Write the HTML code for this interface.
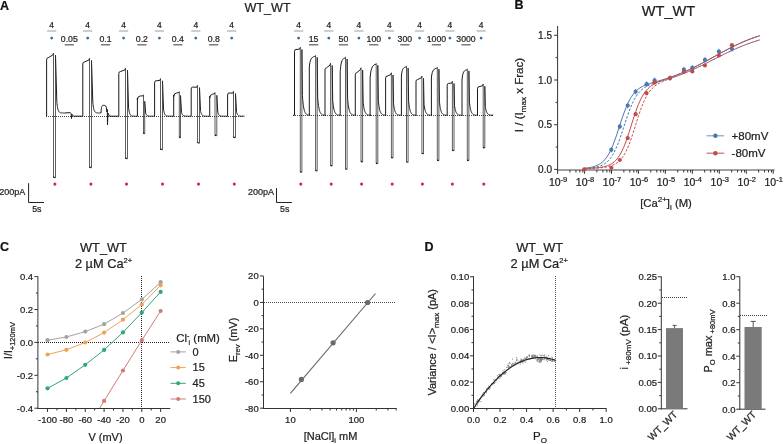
<!DOCTYPE html>
<html><head><meta charset="utf-8"><style>
html,body{margin:0;padding:0;background:#fff;}
svg{display:block;font-family:"Liberation Sans", sans-serif;will-change:transform;}
text{stroke:#222;stroke-width:0.22px;}
</style></head><body>
<svg width="784" height="444" viewBox="0 0 784 444">
<rect width="784" height="444" fill="#fff"/>
<text x="0.00" y="9.50" font-size="12.5" text-anchor="start" font-weight="bold" fill="#111" >A</text>
<text x="267.50" y="11.70" font-size="12.6" text-anchor="middle" font-weight="normal" fill="#222" >WT_WT</text>
<text x="51.70" y="28.30" font-size="8.4" text-anchor="middle" font-weight="normal" fill="#222" >4</text>
<line x1="47.10" y1="31.00" x2="56.30" y2="31.00" stroke="#b4b4b4" stroke-width="1.3" />
<circle cx="51.70" cy="38.10" r="1.4" fill="#2f6aa3"/>
<text x="87.70" y="28.30" font-size="8.4" text-anchor="middle" font-weight="normal" fill="#222" >4</text>
<line x1="83.10" y1="31.00" x2="92.30" y2="31.00" stroke="#b4b4b4" stroke-width="1.3" />
<circle cx="87.70" cy="38.10" r="1.4" fill="#2f6aa3"/>
<text x="123.60" y="28.30" font-size="8.4" text-anchor="middle" font-weight="normal" fill="#222" >4</text>
<line x1="119.00" y1="31.00" x2="128.20" y2="31.00" stroke="#b4b4b4" stroke-width="1.3" />
<circle cx="123.60" cy="38.10" r="1.4" fill="#2f6aa3"/>
<text x="159.40" y="28.30" font-size="8.4" text-anchor="middle" font-weight="normal" fill="#222" >4</text>
<line x1="154.80" y1="31.00" x2="164.00" y2="31.00" stroke="#b4b4b4" stroke-width="1.3" />
<circle cx="159.40" cy="38.10" r="1.4" fill="#2f6aa3"/>
<text x="195.80" y="28.30" font-size="8.4" text-anchor="middle" font-weight="normal" fill="#222" >4</text>
<line x1="191.20" y1="31.00" x2="200.40" y2="31.00" stroke="#b4b4b4" stroke-width="1.3" />
<circle cx="195.80" cy="38.10" r="1.4" fill="#2f6aa3"/>
<text x="231.70" y="28.30" font-size="8.4" text-anchor="middle" font-weight="normal" fill="#222" >4</text>
<line x1="227.10" y1="31.00" x2="236.30" y2="31.00" stroke="#b4b4b4" stroke-width="1.3" />
<circle cx="231.70" cy="38.10" r="1.4" fill="#2f6aa3"/>
<text x="298.60" y="28.30" font-size="8.4" text-anchor="middle" font-weight="normal" fill="#222" >4</text>
<line x1="294.00" y1="31.00" x2="303.20" y2="31.00" stroke="#b4b4b4" stroke-width="1.3" />
<circle cx="298.60" cy="38.10" r="1.4" fill="#2f6aa3"/>
<text x="328.80" y="28.30" font-size="8.4" text-anchor="middle" font-weight="normal" fill="#222" >4</text>
<line x1="324.20" y1="31.00" x2="333.40" y2="31.00" stroke="#b4b4b4" stroke-width="1.3" />
<circle cx="328.80" cy="38.10" r="1.4" fill="#2f6aa3"/>
<text x="358.90" y="28.30" font-size="8.4" text-anchor="middle" font-weight="normal" fill="#222" >4</text>
<line x1="354.30" y1="31.00" x2="363.50" y2="31.00" stroke="#b4b4b4" stroke-width="1.3" />
<circle cx="358.90" cy="38.10" r="1.4" fill="#2f6aa3"/>
<text x="389.40" y="28.30" font-size="8.4" text-anchor="middle" font-weight="normal" fill="#222" >4</text>
<line x1="384.80" y1="31.00" x2="394.00" y2="31.00" stroke="#b4b4b4" stroke-width="1.3" />
<circle cx="389.40" cy="38.10" r="1.4" fill="#2f6aa3"/>
<text x="419.60" y="28.30" font-size="8.4" text-anchor="middle" font-weight="normal" fill="#222" >4</text>
<line x1="415.00" y1="31.00" x2="424.20" y2="31.00" stroke="#b4b4b4" stroke-width="1.3" />
<circle cx="419.60" cy="38.10" r="1.4" fill="#2f6aa3"/>
<text x="449.90" y="28.30" font-size="8.4" text-anchor="middle" font-weight="normal" fill="#222" >4</text>
<line x1="445.30" y1="31.00" x2="454.50" y2="31.00" stroke="#b4b4b4" stroke-width="1.3" />
<circle cx="449.90" cy="38.10" r="1.4" fill="#2f6aa3"/>
<text x="481.10" y="28.30" font-size="8.4" text-anchor="middle" font-weight="normal" fill="#222" >4</text>
<line x1="476.50" y1="31.00" x2="485.70" y2="31.00" stroke="#b4b4b4" stroke-width="1.3" />
<circle cx="481.10" cy="38.10" r="1.4" fill="#2f6aa3"/>
<text x="69.30" y="42.30" font-size="8.7" text-anchor="middle" font-weight="normal" fill="#222" >0.05</text>
<line x1="64.70" y1="44.80" x2="73.90" y2="44.80" stroke="#666" stroke-width="1.3" />
<text x="105.50" y="42.30" font-size="8.7" text-anchor="middle" font-weight="normal" fill="#222" >0.1</text>
<line x1="100.90" y1="44.80" x2="110.10" y2="44.80" stroke="#666" stroke-width="1.3" />
<text x="141.90" y="42.30" font-size="8.7" text-anchor="middle" font-weight="normal" fill="#222" >0.2</text>
<line x1="137.30" y1="44.80" x2="146.50" y2="44.80" stroke="#666" stroke-width="1.3" />
<text x="177.90" y="42.30" font-size="8.7" text-anchor="middle" font-weight="normal" fill="#222" >0.4</text>
<line x1="173.30" y1="44.80" x2="182.50" y2="44.80" stroke="#666" stroke-width="1.3" />
<text x="213.70" y="42.30" font-size="8.7" text-anchor="middle" font-weight="normal" fill="#222" >0.8</text>
<line x1="209.10" y1="44.80" x2="218.30" y2="44.80" stroke="#666" stroke-width="1.3" />
<text x="313.60" y="42.30" font-size="8.7" text-anchor="middle" font-weight="normal" fill="#222" >15</text>
<line x1="309.00" y1="44.80" x2="318.20" y2="44.80" stroke="#666" stroke-width="1.3" />
<text x="343.40" y="42.30" font-size="8.7" text-anchor="middle" font-weight="normal" fill="#222" >50</text>
<line x1="338.80" y1="44.80" x2="348.00" y2="44.80" stroke="#666" stroke-width="1.3" />
<text x="373.80" y="42.30" font-size="8.7" text-anchor="middle" font-weight="normal" fill="#222" >100</text>
<line x1="369.20" y1="44.80" x2="378.40" y2="44.80" stroke="#666" stroke-width="1.3" />
<text x="404.80" y="42.30" font-size="8.7" text-anchor="middle" font-weight="normal" fill="#222" >300</text>
<line x1="400.20" y1="44.80" x2="409.40" y2="44.80" stroke="#666" stroke-width="1.3" />
<text x="436.40" y="42.30" font-size="8.7" text-anchor="middle" font-weight="normal" fill="#222" >1000</text>
<line x1="431.80" y1="44.80" x2="441.00" y2="44.80" stroke="#666" stroke-width="1.3" />
<text x="466.00" y="42.30" font-size="8.7" text-anchor="middle" font-weight="normal" fill="#222" >3000</text>
<line x1="461.40" y1="44.80" x2="470.60" y2="44.80" stroke="#666" stroke-width="1.3" />
<line x1="46.00" y1="116.50" x2="244.00" y2="116.50" stroke="#333" stroke-width="0.9" stroke-dasharray="1 1"/>
<line x1="293.00" y1="115.50" x2="492.00" y2="115.50" stroke="#333" stroke-width="0.9" stroke-dasharray="1 1"/>
<path d="M46.0,116.2 L46.6,116.2 L46.6,59.8 Q46.6,57.8 48.1,57.8 L52.9,54.9 L53.5,53.1 M55.5,55.3 L56.80,101.46 L57.00,103.55 L57.20,105.26 L57.40,106.67 L57.60,107.81 L57.80,108.75 L58.00,109.52 L58.20,110.15 L58.40,110.67 L58.60,111.09 L58.80,111.44 L59.00,111.72 L59.20,111.95 L59.40,112.14 L59.60,112.30 L59.80,112.43 L60.00,112.53 L60.20,112.61 L60.40,112.68 L60.60,112.74 L60.80,112.79 L61.00,112.83 L61.20,112.86 L61.40,112.88 L61.60,112.91 L61.80,112.92 L62.00,112.94 L62.20,112.95 L62.40,112.96 L62.60,112.97 L62.80,112.97 L63.00,112.98 L63.20,112.98 L63.40,112.98 L63.60,112.99 L63.80,112.99 L64.00,112.99 L64.20,112.99 L64.40,112.99 L64.60,113.00 L70.2,112.6 L71.2,113.8 L71.5,118.5 L71.9,114.2 L73.5,116.2 L82.8,116.2 L82.8,64.0 Q82.8,62.0 84.3,62.0 L88.9,60.1 L89.5,58.3 M91.5,60.5 L92.80,102.50 L93.00,104.40 L93.20,105.96 L93.40,107.24 L93.60,108.28 L93.80,109.14 L94.00,109.84 L94.20,110.41 L94.40,110.88 L94.60,111.26 L94.80,111.58 L95.00,111.84 L95.20,112.05 L95.40,112.22 L95.60,112.36 L95.80,112.48 L96.00,112.57 L96.20,112.65 L96.40,112.71 L96.60,112.77 L96.80,112.81 L97.00,112.84 L97.20,112.87 L97.40,112.89 L97.60,112.91 L97.80,112.93 L98.00,112.94 L98.20,112.95 L98.40,112.96 L98.60,112.97 L98.80,112.97 L99.00,112.98 L99.20,112.98 L99.40,112.99 L99.60,112.99 L99.80,112.99 L100.00,112.99 L100.20,112.99 L100.40,112.99 L100.60,113.00 L101,113 C101.3,106 102,105.3 103.5,105.3 C105.5,105.3 106.3,106 106.6,109 L106.9,112 L107.3,109.5 L107.5,125 L107.9,113 L109.5,116.2 L118.8,116.2 L118.8,73.6 Q118.8,71.6 120.3,71.6 L124.9,69.9 L125.5,68.1 M127.5,70.3 L128.50,107.02 L128.70,108.68 L128.90,110.05 L129.10,111.16 L129.30,112.08 L129.50,112.82 L129.70,113.44 L129.90,113.94 L130.10,114.35 L130.30,114.68 L130.50,114.96 L130.70,115.18 L130.90,115.37 L131.10,115.52 L131.30,115.64 L131.50,115.74 L131.70,115.83 L131.90,115.89 L132.10,115.95 L132.30,115.99 L132.50,116.03 L132.70,116.06 L132.90,116.09 L133.10,116.11 L133.30,116.12 L133.50,116.14 L133.70,116.15 L133.90,116.16 L134.10,116.17 L134.30,116.17 L134.50,116.18 L134.70,116.18 L134.90,116.18 L135.10,116.19 L135.30,116.19 L135.50,116.19 L135.70,116.19 L135.90,116.19 L136.10,116.20 L136.30,116.20 L137.4,116.2 L137.4,98.0 L137.4,99.5 Q137.7,96.0 140.2,96.0 L143.5,95.8 M144.7,101.3 L145.70,113.22 L145.90,113.76 L146.10,114.20 L146.30,114.56 L146.50,114.86 L146.70,115.10 L146.90,115.30 L147.10,115.47 L147.30,115.60 L147.50,115.71 L147.70,115.80 L147.90,115.87 L148.10,115.93 L148.30,115.98 L148.50,116.02 L148.70,116.05 L148.90,116.08 L149.10,116.10 L149.30,116.12 L149.50,116.13 L149.70,116.15 L149.90,116.16 L150.10,116.16 L150.30,116.17 L150.50,116.18 L150.70,116.18 L150.90,116.18 L151.10,116.19 L151.30,116.19 L151.50,116.19 L151.70,116.19 L151.90,116.19 L152.10,116.20 L152.30,116.20 L152.50,116.20 L152.70,116.20 L152.90,116.20 L153.10,116.20 L153.30,116.20 L153.50,116.20 L154.6,116.2 L154.6,82.8 Q154.6,80.8 156.1,80.8 L159.9,80.4 L160.5,78.6 M162.5,80.8 L163.50,109.12 L163.70,110.40 L163.90,111.45 L164.10,112.31 L164.30,113.02 L164.50,113.60 L164.70,114.07 L164.90,114.45 L165.10,114.77 L165.30,115.03 L165.50,115.24 L165.70,115.42 L165.90,115.56 L166.10,115.67 L166.30,115.77 L166.50,115.85 L166.70,115.91 L166.90,115.96 L167.10,116.01 L167.30,116.04 L167.50,116.07 L167.70,116.09 L167.90,116.11 L168.10,116.13 L168.30,116.14 L168.50,116.15 L168.70,116.16 L168.90,116.17 L169.10,116.17 L169.30,116.18 L169.50,116.18 L169.70,116.19 L169.90,116.19 L170.10,116.19 L170.30,116.19 L170.50,116.19 L170.70,116.19 L170.90,116.20 L171.10,116.20 L171.30,116.20 L173.7,116.2 L173.7,95.0 L173.7,96.5 Q174.0,93.0 176.5,93.0 L179.3,92.5 M180.5,95.5 L181.50,112.06 L181.70,112.81 L181.90,113.42 L182.10,113.93 L182.30,114.34 L182.50,114.68 L182.70,114.95 L182.90,115.18 L183.10,115.36 L183.30,115.52 L183.50,115.64 L183.70,115.74 L183.90,115.82 L184.10,115.89 L184.30,115.95 L184.50,115.99 L184.70,116.03 L184.90,116.06 L185.10,116.09 L185.30,116.11 L185.50,116.12 L185.70,116.14 L185.90,116.15 L186.10,116.16 L186.30,116.17 L186.50,116.17 L186.70,116.18 L186.90,116.18 L187.10,116.18 L187.30,116.19 L187.50,116.19 L187.70,116.19 L187.90,116.19 L188.10,116.19 L188.30,116.20 L188.50,116.20 L188.70,116.20 L188.90,116.20 L189.10,116.20 L189.30,116.20 L191.2,116.2 L191.2,89.1 Q191.2,87.1 192.7,87.1 L196.9,87.2 L197.5,85.4 M199.5,87.6 L200.50,110.48 L200.70,111.52 L200.90,112.37 L201.10,113.06 L201.30,113.63 L201.50,114.10 L201.70,114.48 L201.90,114.79 L202.10,115.05 L202.30,115.25 L202.50,115.43 L202.70,115.57 L202.90,115.68 L203.10,115.78 L203.30,115.85 L203.50,115.92 L203.70,115.97 L203.90,116.01 L204.10,116.04 L204.30,116.07 L204.50,116.10 L204.70,116.11 L204.90,116.13 L205.10,116.14 L205.30,116.15 L205.50,116.16 L205.70,116.17 L205.90,116.17 L206.10,116.18 L206.30,116.18 L206.50,116.19 L206.70,116.19 L206.90,116.19 L207.10,116.19 L207.30,116.19 L207.50,116.19 L207.70,116.20 L207.90,116.20 L208.10,116.20 L208.30,116.20 L209.7,116.2 L209.7,96.3 L209.7,97.8 Q210.0,94.3 212.5,94.3 L215.0,93.3 M216.8,95.3 L217.80,112.02 L218.00,112.78 L218.20,113.40 L218.40,113.91 L218.60,114.32 L218.80,114.66 L219.00,114.94 L219.20,115.17 L219.40,115.36 L219.60,115.51 L219.80,115.63 L220.00,115.74 L220.20,115.82 L220.40,115.89 L220.60,115.95 L220.80,115.99 L221.00,116.03 L221.20,116.06 L221.40,116.09 L221.60,116.11 L221.80,116.12 L222.00,116.14 L222.20,116.15 L222.40,116.16 L222.60,116.17 L222.80,116.17 L223.00,116.18 L223.20,116.18 L223.40,116.18 L223.60,116.19 L223.80,116.19 L224.00,116.19 L224.20,116.19 L224.40,116.19 L224.60,116.20 L224.80,116.20 L225.00,116.20 L225.20,116.20 L225.40,116.20 L225.60,116.20 L227.6,116.2 L227.6,95.0 Q227.6,93.0 229.1,93.0 L232.9,93.1 L233.5,91.3 M235.5,93.5 L236.50,111.66 L236.70,112.48 L236.90,113.16 L237.10,113.71 L237.30,114.16 L237.50,114.53 L237.70,114.83 L237.90,115.08 L238.10,115.28 L238.30,115.45 L238.50,115.59 L238.70,115.70 L238.90,115.79 L239.10,115.86 L239.30,115.92 L239.50,115.97 L239.70,116.01 L239.90,116.05 L240.10,116.08 L240.30,116.10 L240.50,116.12 L240.70,116.13 L240.90,116.14 L241.10,116.15 L241.30,116.16 L241.50,116.17 L241.70,116.17 L241.90,116.18 L242.10,116.18 L242.30,116.19 L242.50,116.19 L242.70,116.19 L242.90,116.19 L243.10,116.19 L243.30,116.19 L243.50,116.20 L243.70,116.20 L243.90,116.20 L244.10,116.20 L244.30,116.20 L244.0,116.2" stroke="#1a1a1a" stroke-width="1" fill="none" />
<path d="M293.0,115.3 L294.5,115.3 L294.5,51.5 Q294.5,49.5 296.0,49.5 L299.7,49.1 L300.3,47.3 M301.9,49.5 L302.40,95.56 L302.60,98.19 L302.80,100.47 L303.00,102.44 L303.20,104.15 L303.40,105.64 L303.60,106.92 L303.80,108.04 L304.00,109.00 L304.20,109.84 L304.40,110.57 L304.60,111.20 L304.80,111.74 L305.00,112.22 L305.20,112.63 L305.40,112.98 L305.60,113.29 L305.80,113.56 L306.00,113.79 L306.20,113.99 L306.40,114.17 L306.60,114.32 L306.80,114.45 L307.00,114.56 L307.20,114.66 L307.40,114.74 L307.60,114.82 L307.80,114.88 L308.00,114.94 L308.20,114.99 L308.40,115.03 L308.60,115.06 L308.80,115.10 L309.00,115.12 L309.20,115.15 L309.40,115.17 L309.60,115.18 L309.80,115.20 L310.00,115.21 L310.20,115.22 L309.3,115.3 L309.3,67.0 L309.5,65.0 C310.2,58.5 312.6,56.3 315.6,56.3 M317.2,57.3 L317.70,97.90 L317.90,100.22 L318.10,102.22 L318.30,103.96 L318.50,105.47 L318.70,106.78 L318.90,107.92 L319.10,108.90 L319.30,109.75 L319.50,110.49 L319.70,111.13 L319.90,111.69 L320.10,112.17 L320.30,112.58 L320.50,112.95 L320.70,113.26 L320.90,113.53 L321.10,113.77 L321.30,113.97 L321.50,114.15 L321.70,114.30 L321.90,114.43 L322.10,114.55 L322.30,114.65 L322.50,114.74 L322.70,114.81 L322.90,114.88 L323.10,114.93 L323.30,114.98 L323.50,115.02 L323.70,115.06 L323.90,115.09 L324.10,115.12 L324.30,115.14 L324.50,115.16 L324.70,115.18 L324.90,115.20 L325.10,115.21 L325.30,115.22 L325.50,115.23 L325.0,115.3 L325.0,69.8 Q325.0,67.8 326.5,67.8 L330.0,65.1 L330.6,63.3 M332.2,65.5 L332.70,100.36 L332.90,102.35 L333.10,104.07 L333.30,105.57 L333.50,106.86 L333.70,107.99 L333.90,108.96 L334.10,109.80 L334.30,110.54 L334.50,111.17 L334.70,111.72 L334.90,112.20 L335.10,112.61 L335.30,112.97 L335.50,113.28 L335.70,113.55 L335.90,113.78 L336.10,113.98 L336.30,114.16 L336.50,114.31 L336.70,114.44 L336.90,114.56 L337.10,114.66 L337.30,114.74 L337.50,114.82 L337.70,114.88 L337.90,114.94 L338.10,114.98 L338.30,115.03 L338.50,115.06 L338.70,115.09 L338.90,115.12 L339.10,115.15 L339.30,115.17 L339.50,115.18 L339.70,115.20 L339.90,115.21 L340.10,115.22 L340.30,115.23 L340.50,115.24 L340.2,115.3 L340.2,71.5 L340.4,69.5 C341.1,60.9 342.5,58.0 345.5,58.0 M347.1,59.0 L347.60,98.41 L347.80,100.66 L348.00,102.61 L348.20,104.30 L348.40,105.76 L348.60,107.03 L348.80,108.13 L349.00,109.09 L349.20,109.91 L349.40,110.63 L349.60,111.25 L349.80,111.79 L350.00,112.26 L350.20,112.66 L350.40,113.01 L350.60,113.32 L350.80,113.58 L351.00,113.81 L351.20,114.01 L351.40,114.18 L351.60,114.33 L351.80,114.46 L352.00,114.57 L352.20,114.67 L352.40,114.75 L352.60,114.83 L352.80,114.89 L353.00,114.94 L353.20,114.99 L353.40,115.03 L353.60,115.07 L353.80,115.10 L354.00,115.13 L354.20,115.15 L354.40,115.17 L354.60,115.19 L354.80,115.20 L355.00,115.21 L355.20,115.23 L355.40,115.24 L355.3,115.3 L355.3,74.7 Q355.3,72.7 356.8,72.7 L360.4,69.6 L361.0,67.8 M362.6,70.0 L363.10,101.71 L363.30,103.52 L363.50,105.09 L363.70,106.45 L363.90,107.63 L364.10,108.65 L364.30,109.53 L364.50,110.30 L364.70,110.97 L364.90,111.54 L365.10,112.04 L365.30,112.48 L365.50,112.85 L365.70,113.18 L365.90,113.46 L366.10,113.71 L366.30,113.92 L366.50,114.10 L366.70,114.26 L366.90,114.40 L367.10,114.52 L367.30,114.62 L367.50,114.71 L367.70,114.79 L367.90,114.86 L368.10,114.92 L368.30,114.97 L368.50,115.01 L368.70,115.05 L368.90,115.08 L369.10,115.11 L369.30,115.14 L369.50,115.16 L369.70,115.18 L369.90,115.19 L370.10,115.21 L370.30,115.22 L370.50,115.23 L370.70,115.24 L370.90,115.25 L370.1,115.3 L370.1,78.0 L370.3,76.0 C371.0,67.2 373.2,64.3 376.2,64.3 M377.8,65.3 L378.30,100.30 L378.50,102.30 L378.70,104.03 L378.90,105.53 L379.10,106.83 L379.30,107.96 L379.50,108.93 L379.70,109.78 L379.90,110.52 L380.10,111.15 L380.30,111.71 L380.50,112.18 L380.70,112.60 L380.90,112.96 L381.10,113.27 L381.30,113.54 L381.50,113.77 L381.70,113.98 L381.90,114.15 L382.10,114.31 L382.30,114.44 L382.50,114.55 L382.70,114.65 L382.90,114.74 L383.10,114.81 L383.30,114.88 L383.50,114.93 L383.70,114.98 L383.90,115.03 L384.10,115.06 L384.30,115.09 L384.50,115.12 L384.70,115.14 L384.90,115.17 L385.10,115.18 L385.30,115.20 L385.50,115.21 L385.70,115.22 L385.90,115.23 L386.10,115.24 L385.6,115.3 L385.6,78.2 Q385.6,76.2 387.1,76.2 L390.8,74.6 L391.4,72.8 M393.0,75.0 L393.50,103.21 L393.70,104.82 L393.90,106.21 L394.10,107.42 L394.30,108.47 L394.50,109.38 L394.70,110.17 L394.90,110.85 L395.10,111.44 L395.30,111.96 L395.50,112.40 L395.70,112.79 L395.90,113.12 L396.10,113.41 L396.30,113.66 L396.50,113.88 L396.70,114.07 L396.90,114.23 L397.10,114.38 L397.30,114.50 L397.50,114.61 L397.70,114.70 L397.90,114.78 L398.10,114.85 L398.30,114.91 L398.50,114.96 L398.70,115.01 L398.90,115.04 L399.10,115.08 L399.30,115.11 L399.50,115.13 L399.70,115.16 L399.90,115.17 L400.10,115.19 L400.30,115.21 L400.50,115.22 L400.70,115.23 L400.90,115.24 L401.10,115.25 L401.30,115.25 L401.4,115.3 L401.4,76.0 L401.6,74.0 C402.3,68.8 403.5,67.0 406.5,67.0 M408.1,68.0 L408.60,101.11 L408.80,103.00 L409.00,104.64 L409.20,106.06 L409.40,107.29 L409.60,108.35 L409.80,109.28 L410.00,110.08 L410.20,110.77 L410.40,111.38 L410.60,111.90 L410.80,112.35 L411.00,112.74 L411.20,113.08 L411.40,113.38 L411.60,113.64 L411.80,113.86 L412.00,114.05 L412.20,114.22 L412.40,114.36 L412.60,114.49 L412.80,114.59 L413.00,114.69 L413.20,114.77 L413.40,114.84 L413.60,114.90 L413.80,114.95 L414.00,115.00 L414.20,115.04 L414.40,115.07 L414.60,115.10 L414.80,115.13 L415.00,115.15 L415.20,115.17 L415.40,115.19 L415.60,115.20 L415.80,115.22 L416.00,115.23 L416.20,115.24 L416.40,115.25 L416.0,115.3 L416.0,81.5 Q416.0,79.5 417.5,79.5 L421.3,77.9 L421.9,76.1 M423.5,78.3 L424.00,104.20 L424.20,105.68 L424.40,106.96 L424.60,108.07 L424.80,109.03 L425.00,109.87 L425.20,110.59 L425.40,111.22 L425.60,111.76 L425.80,112.23 L426.00,112.64 L426.20,112.99 L426.40,113.30 L426.60,113.57 L426.80,113.80 L427.00,114.00 L427.20,114.17 L427.40,114.32 L427.60,114.45 L427.80,114.56 L428.00,114.66 L428.20,114.75 L428.40,114.82 L428.60,114.88 L428.80,114.94 L429.00,114.99 L429.20,115.03 L429.40,115.07 L429.60,115.10 L429.80,115.12 L430.00,115.15 L430.20,115.17 L430.40,115.19 L430.60,115.20 L430.80,115.21 L431.00,115.23 L431.20,115.24 L431.40,115.24 L431.60,115.25 L431.80,115.26 L431.4,115.3 L431.4,78.0 L431.6,76.0 C432.3,70.2 434.3,68.2 437.3,68.2 M438.9,69.2 L439.40,101.47 L439.60,103.31 L439.80,104.91 L440.00,106.29 L440.20,107.49 L440.40,108.53 L440.60,109.43 L440.80,110.21 L441.00,110.89 L441.20,111.48 L441.40,111.99 L441.60,112.43 L441.80,112.81 L442.00,113.14 L442.20,113.43 L442.40,113.68 L442.60,113.89 L442.80,114.08 L443.00,114.24 L443.20,114.38 L443.40,114.51 L443.60,114.61 L443.80,114.70 L444.00,114.78 L444.20,114.85 L444.40,114.91 L444.60,114.96 L444.80,115.01 L445.00,115.05 L445.20,115.08 L445.40,115.11 L445.60,115.13 L445.80,115.16 L446.00,115.18 L446.20,115.19 L446.40,115.21 L446.60,115.22 L446.80,115.23 L447.00,115.24 L447.20,115.25 L447.2,115.3 L447.2,85.4 Q447.2,83.4 448.7,83.4 L451.8,83.1 L452.4,81.3 M454.0,83.5 L454.50,105.76 L454.70,107.03 L454.90,108.13 L455.10,109.09 L455.30,109.91 L455.50,110.63 L455.70,111.25 L455.90,111.79 L456.10,112.26 L456.30,112.66 L456.50,113.01 L456.70,113.32 L456.90,113.58 L457.10,113.81 L457.30,114.01 L457.50,114.18 L457.70,114.33 L457.90,114.46 L458.10,114.57 L458.30,114.67 L458.50,114.75 L458.70,114.83 L458.90,114.89 L459.10,114.94 L459.30,114.99 L459.50,115.03 L459.70,115.07 L459.90,115.10 L460.10,115.13 L460.30,115.15 L460.50,115.17 L460.70,115.19 L460.90,115.20 L461.10,115.21 L461.30,115.23 L461.50,115.24 L461.70,115.24 L461.90,115.25 L462.10,115.26 L462.30,115.26 L462.0,115.3 L462.0,80.0 L462.2,78.0 C462.9,71.9 464.3,69.9 467.3,69.9 M468.9,70.9 L469.40,101.98 L469.60,103.75 L469.80,105.29 L470.00,106.62 L470.20,107.78 L470.40,108.78 L470.60,109.65 L470.80,110.40 L471.00,111.05 L471.20,111.62 L471.40,112.11 L471.60,112.53 L471.80,112.90 L472.00,113.22 L472.20,113.50 L472.40,113.74 L472.60,113.95 L472.80,114.13 L473.00,114.28 L473.20,114.42 L473.40,114.53 L473.60,114.64 L473.80,114.73 L474.00,114.80 L474.20,114.87 L474.40,114.93 L474.60,114.98 L474.80,115.02 L475.00,115.06 L475.20,115.09 L475.40,115.12 L475.60,115.14 L475.80,115.16 L476.00,115.18 L476.20,115.20 L476.40,115.21 L476.60,115.22 L476.80,115.23 L477.00,115.24 L477.20,115.25 L477.5,115.3 L477.5,88.7 Q477.5,86.7 479.0,86.7 L482.6,85.8 L483.2,84.0 M484.8,86.2 L485.30,106.57 L485.50,107.73 L485.70,108.74 L485.90,109.61 L486.10,110.37 L486.30,111.03 L486.50,111.60 L486.70,112.09 L486.90,112.52 L487.10,112.89 L487.30,113.21 L487.50,113.49 L487.70,113.73 L487.90,113.94 L488.10,114.12 L488.30,114.28 L488.50,114.41 L488.70,114.53 L488.90,114.63 L489.10,114.72 L489.30,114.80 L489.50,114.87 L489.70,114.92 L489.90,114.97 L490.10,115.02 L490.30,115.05 L490.50,115.09 L490.70,115.12 L490.90,115.14 L491.10,115.16 L491.30,115.18 L491.50,115.20 L491.70,115.21 L491.90,115.22 L492.10,115.23 L492.30,115.24 L492.50,115.25 L492.70,115.26 L492.90,115.26 L493.10,115.27 L492.0,115.3" stroke="#1a1a1a" stroke-width="1" fill="none" />
<path d="M53.50,53.1 L53.50,177.0 L55.50,177.8 L55.50,55.3" stroke="#2a2a2a" stroke-width="0.75" fill="none" />
<line x1="53.30" y1="177.10" x2="54.70" y2="177.60" stroke="#111" stroke-width="1.2" />
<path d="M89.50,58.3 L89.50,167.0 L91.50,167.8 L91.50,60.5" stroke="#2a2a2a" stroke-width="0.75" fill="none" />
<line x1="89.30" y1="167.10" x2="90.70" y2="167.60" stroke="#111" stroke-width="1.2" />
<path d="M125.50,68.1 L125.50,158.0 L127.50,158.8 L127.50,70.3" stroke="#2a2a2a" stroke-width="0.75" fill="none" />
<line x1="125.30" y1="158.10" x2="126.70" y2="158.60" stroke="#111" stroke-width="1.2" />
<path d="M143.50,94.6 L143.50,133.0 L144.70,133.8 L144.70,101.3" stroke="#2a2a2a" stroke-width="0.75" fill="none" />
<line x1="143.30" y1="133.10" x2="144.22" y2="133.60" stroke="#111" stroke-width="1.2" />
<path d="M160.50,78.6 L160.50,149.0 L162.50,149.8 L162.50,80.8" stroke="#2a2a2a" stroke-width="0.75" fill="none" />
<line x1="160.30" y1="149.10" x2="161.70" y2="149.60" stroke="#111" stroke-width="1.2" />
<path d="M179.30,91.3 L179.30,137.0 L180.50,137.8 L180.50,95.5" stroke="#2a2a2a" stroke-width="0.75" fill="none" />
<line x1="179.10" y1="137.10" x2="180.02" y2="137.60" stroke="#111" stroke-width="1.2" />
<path d="M197.50,85.4 L197.50,142.4 L199.50,143.2 L199.50,87.6" stroke="#2a2a2a" stroke-width="0.75" fill="none" />
<line x1="197.30" y1="142.50" x2="198.70" y2="143.00" stroke="#111" stroke-width="1.2" />
<path d="M215.00,92.1 L215.00,135.0 L216.80,135.8 L216.80,95.3" stroke="#2a2a2a" stroke-width="0.75" fill="none" />
<line x1="214.80" y1="135.10" x2="216.08" y2="135.60" stroke="#111" stroke-width="1.2" />
<path d="M233.50,91.3 L233.50,137.0 L235.50,137.8 L235.50,93.5" stroke="#2a2a2a" stroke-width="0.75" fill="none" />
<line x1="233.30" y1="137.10" x2="234.70" y2="137.60" stroke="#111" stroke-width="1.2" />
<path d="M300.30,47.3 L300.30,171.6 L301.90,172.4 L301.90,49.5" stroke="#2a2a2a" stroke-width="0.75" fill="none" />
<line x1="300.10" y1="171.70" x2="301.26" y2="172.20" stroke="#111" stroke-width="1.2" />
<path d="M315.60,55.1 L315.60,170.3 L317.20,171.1 L317.20,57.3" stroke="#2a2a2a" stroke-width="0.75" fill="none" />
<line x1="315.40" y1="170.40" x2="316.56" y2="170.90" stroke="#111" stroke-width="1.2" />
<path d="M330.60,63.3 L330.60,165.3 L332.20,166.1 L332.20,65.5" stroke="#2a2a2a" stroke-width="0.75" fill="none" />
<line x1="330.40" y1="165.40" x2="331.56" y2="165.90" stroke="#111" stroke-width="1.2" />
<path d="M345.50,56.8 L345.50,168.7 L347.10,169.5 L347.10,59.0" stroke="#2a2a2a" stroke-width="0.75" fill="none" />
<line x1="345.30" y1="168.80" x2="346.46" y2="169.30" stroke="#111" stroke-width="1.2" />
<path d="M361.00,67.8 L361.00,161.3 L362.60,162.1 L362.60,70.0" stroke="#2a2a2a" stroke-width="0.75" fill="none" />
<line x1="360.80" y1="161.40" x2="361.96" y2="161.90" stroke="#111" stroke-width="1.2" />
<path d="M376.20,63.1 L376.20,163.0 L377.80,163.8 L377.80,65.3" stroke="#2a2a2a" stroke-width="0.75" fill="none" />
<line x1="376.00" y1="163.10" x2="377.16" y2="163.60" stroke="#111" stroke-width="1.2" />
<path d="M391.40,72.8 L391.40,157.3 L393.00,158.1 L393.00,75.0" stroke="#2a2a2a" stroke-width="0.75" fill="none" />
<line x1="391.20" y1="157.40" x2="392.36" y2="157.90" stroke="#111" stroke-width="1.2" />
<path d="M406.50,65.8 L406.50,161.6 L408.10,162.4 L408.10,68.0" stroke="#2a2a2a" stroke-width="0.75" fill="none" />
<line x1="406.30" y1="161.70" x2="407.46" y2="162.20" stroke="#111" stroke-width="1.2" />
<path d="M421.90,76.1 L421.90,153.2 L423.50,154.0 L423.50,78.3" stroke="#2a2a2a" stroke-width="0.75" fill="none" />
<line x1="421.70" y1="153.30" x2="422.86" y2="153.80" stroke="#111" stroke-width="1.2" />
<path d="M437.30,67.0 L437.30,160.0 L438.90,160.8 L438.90,69.2" stroke="#2a2a2a" stroke-width="0.75" fill="none" />
<line x1="437.10" y1="160.10" x2="438.26" y2="160.60" stroke="#111" stroke-width="1.2" />
<path d="M452.40,81.3 L452.40,150.0 L454.00,150.8 L454.00,83.5" stroke="#2a2a2a" stroke-width="0.75" fill="none" />
<line x1="452.20" y1="150.10" x2="453.36" y2="150.60" stroke="#111" stroke-width="1.2" />
<path d="M467.30,68.7 L467.30,160.0 L468.90,160.8 L468.90,70.9" stroke="#2a2a2a" stroke-width="0.75" fill="none" />
<line x1="467.10" y1="160.10" x2="468.26" y2="160.60" stroke="#111" stroke-width="1.2" />
<path d="M483.20,84.0 L483.20,147.3 L484.80,148.1 L484.80,86.2" stroke="#2a2a2a" stroke-width="0.75" fill="none" />
<line x1="483.00" y1="147.40" x2="484.16" y2="147.90" stroke="#111" stroke-width="1.2" />
<circle cx="54.90" cy="184.10" r="1.55" fill="#c62f4a"/>
<circle cx="90.90" cy="184.10" r="1.55" fill="#c62f4a"/>
<circle cx="126.50" cy="184.10" r="1.55" fill="#c62f4a"/>
<circle cx="162.50" cy="184.10" r="1.55" fill="#c62f4a"/>
<circle cx="198.50" cy="184.10" r="1.55" fill="#c62f4a"/>
<circle cx="234.30" cy="184.10" r="1.55" fill="#c62f4a"/>
<circle cx="300.80" cy="184.10" r="1.55" fill="#c62f4a"/>
<circle cx="331.20" cy="184.10" r="1.55" fill="#c62f4a"/>
<circle cx="361.60" cy="184.10" r="1.55" fill="#c62f4a"/>
<circle cx="392.20" cy="184.10" r="1.55" fill="#c62f4a"/>
<circle cx="422.40" cy="184.10" r="1.55" fill="#c62f4a"/>
<circle cx="452.40" cy="184.10" r="1.55" fill="#c62f4a"/>
<circle cx="483.80" cy="184.10" r="1.55" fill="#c62f4a"/>
<path d="M28.6,183.2 L28.6,202.5 L44.0,202.5" stroke="#222" stroke-width="1" fill="none" />
<text x="-0.70" y="194.60" font-size="9" text-anchor="start" font-weight="normal" fill="#222" >200pA</text>
<text x="36.80" y="212.00" font-size="8.8" text-anchor="middle" font-weight="normal" fill="#222" >5s</text>
<path d="M276.5,188.1 L276.5,202.5 L291.9,202.5" stroke="#222" stroke-width="1" fill="none" />
<text x="247.90" y="194.60" font-size="9" text-anchor="start" font-weight="normal" fill="#222" >200pA</text>
<text x="284.70" y="212.00" font-size="8.8" text-anchor="middle" font-weight="normal" fill="#222" >5s</text>
<text x="514.50" y="9.00" font-size="12.5" text-anchor="start" font-weight="bold" fill="#111" >B</text>
<text x="668.50" y="15.60" font-size="14.6" text-anchor="middle" font-weight="normal" fill="#222" >WT_WT</text>
<line x1="557.60" y1="26.00" x2="557.60" y2="170.50" stroke="#333" stroke-width="1" />
<line x1="557.10" y1="170.00" x2="774.50" y2="170.00" stroke="#444" stroke-width="1" />
<line x1="554.10" y1="169.40" x2="557.60" y2="169.40" stroke="#333" stroke-width="1" />
<text x="552.00" y="173.00" font-size="10" text-anchor="end" font-weight="normal" fill="#222" >0.0</text>
<line x1="554.10" y1="124.70" x2="557.60" y2="124.70" stroke="#333" stroke-width="1" />
<text x="552.00" y="128.30" font-size="10" text-anchor="end" font-weight="normal" fill="#222" >0.5</text>
<line x1="554.10" y1="80.00" x2="557.60" y2="80.00" stroke="#333" stroke-width="1" />
<text x="552.00" y="83.60" font-size="10" text-anchor="end" font-weight="normal" fill="#222" >1.0</text>
<line x1="554.10" y1="35.30" x2="557.60" y2="35.30" stroke="#333" stroke-width="1" />
<text x="552.00" y="38.90" font-size="10" text-anchor="end" font-weight="normal" fill="#222" >1.5</text>
<line x1="555.60" y1="147.05" x2="557.60" y2="147.05" stroke="#333" stroke-width="1" />
<line x1="555.60" y1="102.35" x2="557.60" y2="102.35" stroke="#333" stroke-width="1" />
<line x1="555.60" y1="57.65" x2="557.60" y2="57.65" stroke="#333" stroke-width="1" />
<line x1="557.60" y1="170.00" x2="557.60" y2="173.80" stroke="#333" stroke-width="1" />
<text x="558.10" y="185.9" font-size="10.5" text-anchor="middle" fill="#222">10<tspan font-size="7.5" dy="-4.2">-9</tspan></text>
<line x1="569.96" y1="170.00" x2="569.96" y2="172.50" stroke="#333" stroke-width="1" />
<line x1="575.94" y1="170.00" x2="575.94" y2="172.50" stroke="#333" stroke-width="1" />
<line x1="579.88" y1="170.00" x2="579.88" y2="172.50" stroke="#333" stroke-width="1" />
<line x1="582.82" y1="170.00" x2="582.82" y2="172.50" stroke="#333" stroke-width="1" />
<line x1="584.55" y1="170.00" x2="584.55" y2="173.80" stroke="#333" stroke-width="1" />
<text x="585.05" y="185.9" font-size="10.5" text-anchor="middle" fill="#222">10<tspan font-size="7.5" dy="-4.2">-8</tspan></text>
<line x1="596.91" y1="170.00" x2="596.91" y2="172.50" stroke="#333" stroke-width="1" />
<line x1="602.89" y1="170.00" x2="602.89" y2="172.50" stroke="#333" stroke-width="1" />
<line x1="606.83" y1="170.00" x2="606.83" y2="172.50" stroke="#333" stroke-width="1" />
<line x1="609.77" y1="170.00" x2="609.77" y2="172.50" stroke="#333" stroke-width="1" />
<line x1="611.50" y1="170.00" x2="611.50" y2="173.80" stroke="#333" stroke-width="1" />
<text x="612.00" y="185.9" font-size="10.5" text-anchor="middle" fill="#222">10<tspan font-size="7.5" dy="-4.2">-7</tspan></text>
<line x1="623.86" y1="170.00" x2="623.86" y2="172.50" stroke="#333" stroke-width="1" />
<line x1="629.84" y1="170.00" x2="629.84" y2="172.50" stroke="#333" stroke-width="1" />
<line x1="633.78" y1="170.00" x2="633.78" y2="172.50" stroke="#333" stroke-width="1" />
<line x1="636.72" y1="170.00" x2="636.72" y2="172.50" stroke="#333" stroke-width="1" />
<line x1="638.45" y1="170.00" x2="638.45" y2="173.80" stroke="#333" stroke-width="1" />
<text x="638.95" y="185.9" font-size="10.5" text-anchor="middle" fill="#222">10<tspan font-size="7.5" dy="-4.2">-6</tspan></text>
<line x1="650.81" y1="170.00" x2="650.81" y2="172.50" stroke="#333" stroke-width="1" />
<line x1="656.79" y1="170.00" x2="656.79" y2="172.50" stroke="#333" stroke-width="1" />
<line x1="660.73" y1="170.00" x2="660.73" y2="172.50" stroke="#333" stroke-width="1" />
<line x1="663.67" y1="170.00" x2="663.67" y2="172.50" stroke="#333" stroke-width="1" />
<line x1="665.40" y1="170.00" x2="665.40" y2="173.80" stroke="#333" stroke-width="1" />
<text x="665.90" y="185.9" font-size="10.5" text-anchor="middle" fill="#222">10<tspan font-size="7.5" dy="-4.2">-5</tspan></text>
<line x1="677.76" y1="170.00" x2="677.76" y2="172.50" stroke="#333" stroke-width="1" />
<line x1="683.74" y1="170.00" x2="683.74" y2="172.50" stroke="#333" stroke-width="1" />
<line x1="687.68" y1="170.00" x2="687.68" y2="172.50" stroke="#333" stroke-width="1" />
<line x1="690.62" y1="170.00" x2="690.62" y2="172.50" stroke="#333" stroke-width="1" />
<line x1="692.35" y1="170.00" x2="692.35" y2="173.80" stroke="#333" stroke-width="1" />
<text x="692.85" y="185.9" font-size="10.5" text-anchor="middle" fill="#222">10<tspan font-size="7.5" dy="-4.2">-4</tspan></text>
<line x1="704.71" y1="170.00" x2="704.71" y2="172.50" stroke="#333" stroke-width="1" />
<line x1="710.69" y1="170.00" x2="710.69" y2="172.50" stroke="#333" stroke-width="1" />
<line x1="714.63" y1="170.00" x2="714.63" y2="172.50" stroke="#333" stroke-width="1" />
<line x1="717.57" y1="170.00" x2="717.57" y2="172.50" stroke="#333" stroke-width="1" />
<line x1="719.30" y1="170.00" x2="719.30" y2="173.80" stroke="#333" stroke-width="1" />
<text x="719.80" y="185.9" font-size="10.5" text-anchor="middle" fill="#222">10<tspan font-size="7.5" dy="-4.2">-3</tspan></text>
<line x1="731.66" y1="170.00" x2="731.66" y2="172.50" stroke="#333" stroke-width="1" />
<line x1="737.64" y1="170.00" x2="737.64" y2="172.50" stroke="#333" stroke-width="1" />
<line x1="741.58" y1="170.00" x2="741.58" y2="172.50" stroke="#333" stroke-width="1" />
<line x1="744.52" y1="170.00" x2="744.52" y2="172.50" stroke="#333" stroke-width="1" />
<line x1="746.25" y1="170.00" x2="746.25" y2="173.80" stroke="#333" stroke-width="1" />
<text x="746.75" y="185.9" font-size="10.5" text-anchor="middle" fill="#222">10<tspan font-size="7.5" dy="-4.2">-2</tspan></text>
<line x1="758.61" y1="170.00" x2="758.61" y2="172.50" stroke="#333" stroke-width="1" />
<line x1="764.59" y1="170.00" x2="764.59" y2="172.50" stroke="#333" stroke-width="1" />
<line x1="768.53" y1="170.00" x2="768.53" y2="172.50" stroke="#333" stroke-width="1" />
<line x1="771.47" y1="170.00" x2="771.47" y2="172.50" stroke="#333" stroke-width="1" />
<line x1="773.20" y1="170.00" x2="773.20" y2="173.80" stroke="#333" stroke-width="1" />
<text x="773.70" y="185.9" font-size="10.5" text-anchor="middle" fill="#222">10<tspan font-size="7.5" dy="-4.2">-1</tspan></text>
<text x="666" y="207.2" font-size="11.3" text-anchor="middle" fill="#222">[Ca<tspan font-size="8" dy="-5">2+</tspan><tspan dy="5">]</tspan><tspan font-size="8" dy="3">i</tspan><tspan dy="-3"> (M)</tspan></text>
<text transform="translate(523,95) rotate(-90)" font-size="11.6" text-anchor="middle" fill="#222">I / (I<tspan font-size="8" dy="3">max</tspan><tspan dy="-3"> x Frac)</tspan></text>
<path d="M584.55,168.19 L585.90,168.05 L587.25,167.89 L588.59,167.71 L589.94,167.49 L591.29,167.23 L592.63,166.93 L593.98,166.56 L595.33,166.13 L596.68,165.61 L598.02,164.99 L599.37,164.26 L600.72,163.38 L602.07,162.35 L603.41,161.13 L604.76,159.70 L606.11,158.03 L607.46,156.09 L608.80,153.86 L610.15,151.33 L611.50,148.48 L612.85,145.31 L614.19,141.86 L615.54,138.14 L616.89,134.21 L618.24,130.14 L619.58,126.00 L620.93,121.87 L622.28,117.84 L623.63,113.96 L624.97,110.31 L626.32,106.92 L627.67,103.83 L629.02,101.05 L630.36,98.56 L631.71,96.37 L633.06,94.45 L634.41,92.77 L635.75,91.32 L637.10,90.06 L638.45,88.96 L639.80,88.00 L641.14,87.16 L642.49,86.42 L643.84,85.77 L645.19,85.18 L646.53,84.64 L647.88,84.14 L649.23,83.68 L650.58,83.25 L651.92,82.83 L653.27,82.43 L654.62,82.04 L655.97,81.65 L657.31,81.26 L658.66,80.88 L660.01,80.49 L661.36,80.10 L662.70,79.70 L664.05,79.29 L665.40,78.88 L666.75,78.46 L668.09,78.02 L669.44,77.58 L670.79,77.12 L672.14,76.66 L673.48,76.18 L674.83,75.69 L676.18,75.18 L677.53,74.67 L678.87,74.14 L680.22,73.60 L681.57,73.05 L682.92,72.48 L684.26,71.90 L685.61,71.31 L686.96,70.71 L688.31,70.10 L689.65,69.47 L691.00,68.83 L692.35,68.19 L693.70,67.53 L695.04,66.86 L696.39,66.18 L697.74,65.49 L699.09,64.80 L700.43,64.10 L701.78,63.39 L703.13,62.67 L704.48,61.95 L705.82,61.22 L707.17,60.49 L708.52,59.75 L709.87,59.01 L711.21,58.27 L712.56,57.53 L713.91,56.79 L715.26,56.04 L716.60,55.30 L717.95,54.56 L719.30,53.82 L720.65,53.09 L721.99,52.36 L723.34,51.63 L724.69,50.91 L726.04,50.20 L727.38,49.49 L728.73,48.79 L730.08,48.10 L731.43,47.42 L732.77,46.74 L734.12,46.08 L735.47,45.43 L736.82,44.78 L738.16,44.15 L739.51,43.53 L740.86,42.92 L742.21,42.32 L743.55,41.74 L744.90,41.17 L746.25,40.61 L747.60,40.06 L748.94,39.53 L750.29,39.01 L751.64,38.50 L752.99,38.01 L754.33,37.52 L755.68,37.06 L757.03,36.60 L758.38,36.16 L759.72,35.73" stroke="#4a76b2" stroke-width="1" fill="none" />
<path d="M584.55,168.46 L585.90,168.38 L587.25,168.29 L588.59,168.18 L589.94,168.05 L591.29,167.90 L592.63,167.72 L593.98,167.52 L595.33,167.27 L596.68,166.98 L598.02,166.64 L599.37,166.23 L600.72,165.74 L602.07,165.16 L603.41,164.47 L604.76,163.65 L606.11,162.69 L607.46,161.54 L608.80,160.19 L610.15,158.61 L611.50,156.78 L612.85,154.66 L614.19,152.25 L615.54,149.52 L616.89,146.47 L618.24,143.13 L619.58,139.50 L620.93,135.65 L622.28,131.62 L623.63,127.49 L624.97,123.34 L626.32,119.25 L627.67,115.29 L629.02,111.54 L630.36,108.03 L631.71,104.81 L633.06,101.90 L634.41,99.28 L635.75,96.97 L637.10,94.93 L638.45,93.15 L639.80,91.61 L641.14,90.26 L642.49,89.09 L643.84,88.07 L645.19,87.17 L646.53,86.39 L647.88,85.69 L649.23,85.06 L650.58,84.49 L651.92,83.97 L653.27,83.49 L654.62,83.03 L655.97,82.60 L657.31,82.18 L658.66,81.77 L660.01,81.37 L661.36,80.97 L662.70,80.58 L664.05,80.18 L665.40,79.78 L666.75,79.38 L668.09,78.96 L669.44,78.54 L670.79,78.12 L672.14,77.68 L673.48,77.23 L674.83,76.78 L676.18,76.31 L677.53,75.83 L678.87,75.34 L680.22,74.84 L681.57,74.33 L682.92,73.81 L684.26,73.27 L685.61,72.73 L686.96,72.17 L688.31,71.61 L689.65,71.03 L691.00,70.44 L692.35,69.85 L693.70,69.24 L695.04,68.62 L696.39,68.00 L697.74,67.37 L699.09,66.73 L700.43,66.08 L701.78,65.43 L703.13,64.77 L704.48,64.10 L705.82,63.43 L707.17,62.76 L708.52,62.08 L709.87,61.40 L711.21,60.71 L712.56,60.03 L713.91,59.35 L715.26,58.66 L716.60,57.98 L717.95,57.30 L719.30,56.62 L720.65,55.94 L721.99,55.27 L723.34,54.60 L724.69,53.94 L726.04,53.28 L727.38,52.63 L728.73,51.98 L730.08,51.35 L731.43,50.72 L732.77,50.10 L734.12,49.48 L735.47,48.88 L736.82,48.29 L738.16,47.71 L739.51,47.14 L740.86,46.57 L742.21,46.02 L743.55,45.49 L744.90,44.96 L746.25,44.44 L747.60,43.94 L748.94,43.45 L750.29,42.97 L751.64,42.50 L752.99,42.05 L754.33,41.60 L755.68,41.17 L757.03,40.76 L758.38,40.35 L759.72,39.95" stroke="#4a76b2" stroke-width="1" fill="none" stroke-dasharray="2.5 1.5"/>
<path d="M584.55,168.56 L585.90,168.51 L587.25,168.46 L588.59,168.40 L589.94,168.33 L591.29,168.26 L592.63,168.17 L593.98,168.07 L595.33,167.97 L596.68,167.84 L598.02,167.70 L599.37,167.53 L600.72,167.33 L602.07,167.10 L603.41,166.83 L604.76,166.52 L606.11,166.14 L607.46,165.69 L608.80,165.16 L610.15,164.53 L611.50,163.78 L612.85,162.89 L614.19,161.83 L615.54,160.57 L616.89,159.10 L618.24,157.37 L619.58,155.36 L620.93,153.04 L622.28,150.40 L623.63,147.42 L624.97,144.11 L626.32,140.50 L627.67,136.61 L629.02,132.50 L630.36,128.25 L631.71,123.94 L633.06,119.66 L634.41,115.50 L635.75,111.52 L637.10,107.80 L638.45,104.36 L639.80,101.24 L641.14,98.44 L642.49,95.96 L643.84,93.77 L645.19,91.86 L646.53,90.19 L647.88,88.74 L649.23,87.47 L650.58,86.37 L651.92,85.39 L653.27,84.52 L654.62,83.75 L655.97,83.05 L657.31,82.40 L658.66,81.81 L660.01,81.25 L661.36,80.71 L662.70,80.20 L664.05,79.70 L665.40,79.21 L666.75,78.72 L668.09,78.24 L669.44,77.76 L670.79,77.27 L672.14,76.77 L673.48,76.27 L674.83,75.77 L676.18,75.25 L677.53,74.72 L678.87,74.18 L680.22,73.63 L681.57,73.07 L682.92,72.50 L684.26,71.92 L685.61,71.33 L686.96,70.72 L688.31,70.11 L689.65,69.48 L691.00,68.84 L692.35,68.19 L693.70,67.53 L695.04,66.86 L696.39,66.18 L697.74,65.50 L699.09,64.80 L700.43,64.10 L701.78,63.39 L703.13,62.67 L704.48,61.95 L705.82,61.22 L707.17,60.49 L708.52,59.75 L709.87,59.01 L711.21,58.27 L712.56,57.53 L713.91,56.79 L715.26,56.04 L716.60,55.30 L717.95,54.56 L719.30,53.82 L720.65,53.09 L721.99,52.36 L723.34,51.63 L724.69,50.91 L726.04,50.20 L727.38,49.49 L728.73,48.79 L730.08,48.10 L731.43,47.42 L732.77,46.74 L734.12,46.08 L735.47,45.43 L736.82,44.78 L738.16,44.15 L739.51,43.53 L740.86,42.92 L742.21,42.32 L743.55,41.74 L744.90,41.17 L746.25,40.61 L747.60,40.06 L748.94,39.53 L750.29,39.01 L751.64,38.50 L752.99,38.01 L754.33,37.52 L755.68,37.06 L757.03,36.60 L758.38,36.16 L759.72,35.73" stroke="#c24b48" stroke-width="1" fill="none" />
<path d="M584.55,168.66 L585.90,168.62 L587.25,168.57 L588.59,168.52 L589.94,168.47 L591.29,168.42 L592.63,168.35 L593.98,168.29 L595.33,168.21 L596.68,168.12 L598.02,168.03 L599.37,167.92 L600.72,167.79 L602.07,167.65 L603.41,167.48 L604.76,167.29 L606.11,167.06 L607.46,166.80 L608.80,166.49 L610.15,166.12 L611.50,165.69 L612.85,165.17 L614.19,164.55 L615.54,163.82 L616.89,162.95 L618.24,161.92 L619.58,160.71 L620.93,159.27 L622.28,157.59 L623.63,155.63 L624.97,153.37 L626.32,150.79 L627.67,147.87 L629.02,144.63 L630.36,141.06 L631.71,137.21 L633.06,133.14 L634.41,128.90 L635.75,124.59 L637.10,120.29 L638.45,116.09 L639.80,112.06 L641.14,108.27 L642.49,104.77 L643.84,101.58 L645.19,98.71 L646.53,96.15 L647.88,93.90 L649.23,91.93 L650.58,90.20 L651.92,88.70 L653.27,87.39 L654.62,86.24 L655.97,85.23 L657.31,84.34 L658.66,83.54 L660.01,82.81 L661.36,82.15 L662.70,81.54 L664.05,80.96 L665.40,80.42 L666.75,79.89 L668.09,79.38 L669.44,78.89 L670.79,78.39 L672.14,77.91 L673.48,77.42 L674.83,76.93 L676.18,76.43 L677.53,75.93 L678.87,75.42 L680.22,74.91 L681.57,74.38 L682.92,73.85 L684.26,73.31 L685.61,72.76 L686.96,72.20 L688.31,71.63 L689.65,71.05 L691.00,70.46 L692.35,69.86 L693.70,69.25 L695.04,68.63 L696.39,68.01 L697.74,67.37 L699.09,66.73 L700.43,66.08 L701.78,65.43 L703.13,64.77 L704.48,64.10 L705.82,63.43 L707.17,62.76 L708.52,62.08 L709.87,61.40 L711.21,60.71 L712.56,60.03 L713.91,59.35 L715.26,58.66 L716.60,57.98 L717.95,57.30 L719.30,56.62 L720.65,55.94 L721.99,55.27 L723.34,54.60 L724.69,53.94 L726.04,53.28 L727.38,52.63 L728.73,51.98 L730.08,51.35 L731.43,50.72 L732.77,50.10 L734.12,49.48 L735.47,48.88 L736.82,48.29 L738.16,47.71 L739.51,47.14 L740.86,46.57 L742.21,46.02 L743.55,45.49 L744.90,44.96 L746.25,44.44 L747.60,43.94 L748.94,43.45 L750.29,42.97 L751.64,42.50 L752.99,42.05 L754.33,41.60 L755.68,41.17 L757.03,40.76 L758.38,40.35 L759.72,39.95" stroke="#c24b48" stroke-width="1" fill="none" stroke-dasharray="2.5 1.5"/>
<line x1="611.30" y1="147.00" x2="611.30" y2="152.60" stroke="#4a76b2" stroke-width="0.8" />
<circle cx="611.30" cy="149.80" r="2.1" fill="#4a76b2"/>
<line x1="619.80" y1="123.80" x2="619.80" y2="129.40" stroke="#4a76b2" stroke-width="0.8" />
<circle cx="619.80" cy="126.60" r="2.1" fill="#4a76b2"/>
<line x1="627.70" y1="102.70" x2="627.70" y2="108.30" stroke="#4a76b2" stroke-width="0.8" />
<circle cx="627.70" cy="105.50" r="2.1" fill="#4a76b2"/>
<line x1="635.60" y1="88.90" x2="635.60" y2="94.50" stroke="#4a76b2" stroke-width="0.8" />
<circle cx="635.60" cy="91.70" r="2.1" fill="#4a76b2"/>
<line x1="646.60" y1="81.40" x2="646.60" y2="87.00" stroke="#4a76b2" stroke-width="0.8" />
<circle cx="646.60" cy="84.20" r="2.1" fill="#4a76b2"/>
<line x1="654.60" y1="77.60" x2="654.60" y2="83.20" stroke="#4a76b2" stroke-width="0.8" />
<circle cx="654.60" cy="80.40" r="2.1" fill="#4a76b2"/>
<line x1="670.00" y1="75.30" x2="670.00" y2="80.90" stroke="#4a76b2" stroke-width="0.8" />
<circle cx="670.00" cy="78.10" r="2.1" fill="#4a76b2"/>
<line x1="683.90" y1="66.80" x2="683.90" y2="72.40" stroke="#4a76b2" stroke-width="0.8" />
<circle cx="683.90" cy="69.60" r="2.1" fill="#4a76b2"/>
<line x1="692.30" y1="65.00" x2="692.30" y2="70.60" stroke="#4a76b2" stroke-width="0.8" />
<circle cx="692.30" cy="67.80" r="2.1" fill="#4a76b2"/>
<line x1="704.90" y1="57.10" x2="704.90" y2="62.70" stroke="#4a76b2" stroke-width="0.8" />
<circle cx="704.90" cy="59.90" r="2.1" fill="#4a76b2"/>
<line x1="718.90" y1="48.70" x2="718.90" y2="54.30" stroke="#4a76b2" stroke-width="0.8" />
<circle cx="718.90" cy="51.50" r="2.1" fill="#4a76b2"/>
<line x1="731.90" y1="46.00" x2="731.90" y2="51.60" stroke="#4a76b2" stroke-width="0.8" />
<circle cx="731.90" cy="48.80" r="2.1" fill="#4a76b2"/>
<circle cx="584.20" cy="169.40" r="2.1" fill="#c24b48"/>
<circle cx="611.30" cy="167.80" r="2.1" fill="#c24b48"/>
<circle cx="619.80" cy="160.00" r="2.1" fill="#c24b48"/>
<circle cx="627.70" cy="138.10" r="2.1" fill="#c24b48"/>
<circle cx="635.60" cy="114.20" r="2.1" fill="#c24b48"/>
<circle cx="646.40" cy="93.10" r="2.1" fill="#c24b48"/>
<circle cx="654.60" cy="82.60" r="2.1" fill="#c24b48"/>
<circle cx="670.00" cy="78.10" r="2.1" fill="#c24b48"/>
<circle cx="683.90" cy="71.80" r="2.1" fill="#c24b48"/>
<circle cx="692.30" cy="71.40" r="2.1" fill="#c24b48"/>
<circle cx="704.90" cy="65.50" r="2.1" fill="#c24b48"/>
<circle cx="718.90" cy="55.40" r="2.1" fill="#c24b48"/>
<circle cx="731.90" cy="45.20" r="2.1" fill="#c24b48"/>
<line x1="706.50" y1="135.80" x2="724.20" y2="135.80" stroke="#8aa2c8" stroke-width="1.2" />
<circle cx="715.40" cy="135.80" r="2.2" fill="#4a76b2"/>
<line x1="706.50" y1="153.20" x2="724.20" y2="153.20" stroke="#c87070" stroke-width="1.2" />
<circle cx="715.40" cy="153.20" r="2.2" fill="#c24b48"/>
<text x="731.60" y="139.90" font-size="11.5" text-anchor="start" font-weight="normal" fill="#222" >+80mV</text>
<text x="731.60" y="156.80" font-size="11.5" text-anchor="start" font-weight="normal" fill="#222" >-80mV</text>
<text x="0.00" y="250.60" font-size="12.5" text-anchor="start" font-weight="bold" fill="#111" >C</text>
<text x="103.50" y="252.40" font-size="12.8" text-anchor="middle" font-weight="normal" fill="#222" >WT_WT</text>
<text x="103.5" y="267.7" font-size="12.8" text-anchor="middle" fill="#222">2 µM Ca<tspan font-size="7.5" dy="-5">2+</tspan></text>
<line x1="37.90" y1="276.30" x2="37.90" y2="409.00" stroke="#333" stroke-width="1" />
<line x1="37.40" y1="408.50" x2="170.30" y2="408.50" stroke="#333" stroke-width="1" />
<line x1="34.40" y1="276.60" x2="37.90" y2="276.60" stroke="#333" stroke-width="1" />
<text x="33.10" y="280.00" font-size="9.5" text-anchor="end" font-weight="normal" fill="#222" >0.4</text>
<line x1="34.40" y1="309.50" x2="37.90" y2="309.50" stroke="#333" stroke-width="1" />
<text x="33.10" y="312.90" font-size="9.5" text-anchor="end" font-weight="normal" fill="#222" >0.2</text>
<line x1="34.40" y1="342.40" x2="37.90" y2="342.40" stroke="#333" stroke-width="1" />
<text x="33.10" y="345.80" font-size="9.5" text-anchor="end" font-weight="normal" fill="#222" >0.0</text>
<line x1="34.40" y1="375.30" x2="37.90" y2="375.30" stroke="#333" stroke-width="1" />
<text x="33.10" y="378.70" font-size="9.5" text-anchor="end" font-weight="normal" fill="#222" >-0.2</text>
<line x1="34.40" y1="408.20" x2="37.90" y2="408.20" stroke="#333" stroke-width="1" />
<text x="33.10" y="411.60" font-size="9.5" text-anchor="end" font-weight="normal" fill="#222" >-0.4</text>
<line x1="35.90" y1="293.05" x2="37.90" y2="293.05" stroke="#333" stroke-width="1" />
<line x1="35.90" y1="325.95" x2="37.90" y2="325.95" stroke="#333" stroke-width="1" />
<line x1="35.90" y1="358.85" x2="37.90" y2="358.85" stroke="#333" stroke-width="1" />
<line x1="35.90" y1="391.75" x2="37.90" y2="391.75" stroke="#333" stroke-width="1" />
<line x1="47.55" y1="408.50" x2="47.55" y2="412.00" stroke="#333" stroke-width="1" />
<text x="47.55" y="423.20" font-size="9.5" text-anchor="middle" font-weight="normal" fill="#222" >-100</text>
<line x1="66.40" y1="408.50" x2="66.40" y2="412.00" stroke="#333" stroke-width="1" />
<text x="66.40" y="423.20" font-size="9.5" text-anchor="middle" font-weight="normal" fill="#222" >-80</text>
<line x1="85.25" y1="408.50" x2="85.25" y2="412.00" stroke="#333" stroke-width="1" />
<text x="85.25" y="423.20" font-size="9.5" text-anchor="middle" font-weight="normal" fill="#222" >-60</text>
<line x1="104.10" y1="408.50" x2="104.10" y2="412.00" stroke="#333" stroke-width="1" />
<text x="104.10" y="423.20" font-size="9.5" text-anchor="middle" font-weight="normal" fill="#222" >-40</text>
<line x1="122.95" y1="408.50" x2="122.95" y2="412.00" stroke="#333" stroke-width="1" />
<text x="122.95" y="423.20" font-size="9.5" text-anchor="middle" font-weight="normal" fill="#222" >-20</text>
<line x1="141.80" y1="408.50" x2="141.80" y2="412.00" stroke="#333" stroke-width="1" />
<text x="141.80" y="423.20" font-size="9.5" text-anchor="middle" font-weight="normal" fill="#222" >0</text>
<line x1="160.65" y1="408.50" x2="160.65" y2="412.00" stroke="#333" stroke-width="1" />
<text x="160.65" y="423.20" font-size="9.5" text-anchor="middle" font-weight="normal" fill="#222" >20</text>
<line x1="56.98" y1="408.50" x2="56.98" y2="410.50" stroke="#333" stroke-width="1" />
<line x1="75.83" y1="408.50" x2="75.83" y2="410.50" stroke="#333" stroke-width="1" />
<line x1="94.68" y1="408.50" x2="94.68" y2="410.50" stroke="#333" stroke-width="1" />
<line x1="113.53" y1="408.50" x2="113.53" y2="410.50" stroke="#333" stroke-width="1" />
<line x1="132.38" y1="408.50" x2="132.38" y2="410.50" stroke="#333" stroke-width="1" />
<line x1="151.23" y1="408.50" x2="151.23" y2="410.50" stroke="#333" stroke-width="1" />
<line x1="38.00" y1="342.50" x2="170.00" y2="342.50" stroke="#222" stroke-width="1" stroke-dasharray="1 1"/>
<line x1="141.50" y1="276.00" x2="141.50" y2="408.00" stroke="#222" stroke-width="1" stroke-dasharray="1 1"/>
<path d="M47.55,340.20 L66.40,337.00 L85.25,331.60 L104.10,324.20 L122.95,313.00 L141.80,299.40 L160.65,282.20" stroke="#a3a3a3" stroke-width="1" fill="none" />
<circle cx="47.55" cy="340.20" r="2.1" fill="#a3a3a3"/>
<circle cx="66.40" cy="337.00" r="2.1" fill="#a3a3a3"/>
<circle cx="85.25" cy="331.60" r="2.1" fill="#a3a3a3"/>
<circle cx="104.10" cy="324.20" r="2.1" fill="#a3a3a3"/>
<circle cx="122.95" cy="313.00" r="2.1" fill="#a3a3a3"/>
<circle cx="141.80" cy="299.40" r="2.1" fill="#a3a3a3"/>
<circle cx="160.65" cy="282.20" r="2.1" fill="#a3a3a3"/>
<path d="M47.55,354.50 L66.40,349.80 L85.25,342.50 L104.10,332.60 L122.95,319.70 L141.80,304.50 L160.65,285.30" stroke="#efa255" stroke-width="1" fill="none" />
<circle cx="47.55" cy="354.50" r="2.1" fill="#efa255"/>
<circle cx="66.40" cy="349.80" r="2.1" fill="#efa255"/>
<circle cx="85.25" cy="342.50" r="2.1" fill="#efa255"/>
<circle cx="104.10" cy="332.60" r="2.1" fill="#efa255"/>
<circle cx="122.95" cy="319.70" r="2.1" fill="#efa255"/>
<circle cx="141.80" cy="304.50" r="2.1" fill="#efa255"/>
<circle cx="160.65" cy="285.30" r="2.1" fill="#efa255"/>
<path d="M47.55,388.30 L66.40,378.00 L85.25,364.80 L104.10,349.90 L122.95,332.40 L141.80,312.60 L160.65,291.90" stroke="#2fa680" stroke-width="1" fill="none" />
<circle cx="47.55" cy="388.30" r="2.1" fill="#2fa680"/>
<circle cx="66.40" cy="378.00" r="2.1" fill="#2fa680"/>
<circle cx="85.25" cy="364.80" r="2.1" fill="#2fa680"/>
<circle cx="104.10" cy="349.90" r="2.1" fill="#2fa680"/>
<circle cx="122.95" cy="332.40" r="2.1" fill="#2fa680"/>
<circle cx="141.80" cy="312.60" r="2.1" fill="#2fa680"/>
<circle cx="160.65" cy="291.90" r="2.1" fill="#2fa680"/>
<path d="M99.80,408.00 L104.10,400.90 L122.95,370.50 L141.80,340.30 L160.65,311.00" stroke="#d27a78" stroke-width="1" fill="none" />
<circle cx="104.10" cy="400.90" r="2.1" fill="#d27a78"/>
<circle cx="122.95" cy="370.50" r="2.1" fill="#d27a78"/>
<circle cx="141.80" cy="340.30" r="2.1" fill="#d27a78"/>
<circle cx="160.65" cy="311.00" r="2.1" fill="#d27a78"/>
<text x="176.3" y="342" font-size="11.4" fill="#222">Cl<tspan font-size="7" dy="-4.5">-</tspan><tspan font-size="7" dy="7" dx="-0.8">i</tspan><tspan dy="-2.5"> (mM)</tspan></text>
<line x1="170.50" y1="351.90" x2="185.80" y2="351.90" stroke="#a3a3a3" stroke-width="1.0" />
<circle cx="178.20" cy="351.90" r="2.0" fill="#a3a3a3"/>
<text x="192.60" y="355.60" font-size="11" text-anchor="start" font-weight="normal" fill="#222" >0</text>
<line x1="170.50" y1="367.60" x2="185.80" y2="367.60" stroke="#efa255" stroke-width="1.0" />
<circle cx="178.20" cy="367.60" r="2.0" fill="#efa255"/>
<text x="192.60" y="371.30" font-size="11" text-anchor="start" font-weight="normal" fill="#222" >15</text>
<line x1="170.50" y1="383.30" x2="185.80" y2="383.30" stroke="#2fa680" stroke-width="1.0" />
<circle cx="178.20" cy="383.30" r="2.0" fill="#2fa680"/>
<text x="192.60" y="387.00" font-size="11" text-anchor="start" font-weight="normal" fill="#222" >45</text>
<line x1="170.50" y1="399.00" x2="185.80" y2="399.00" stroke="#d27a78" stroke-width="1.0" />
<circle cx="178.20" cy="399.00" r="2.0" fill="#d27a78"/>
<text x="192.60" y="402.70" font-size="11" text-anchor="start" font-weight="normal" fill="#222" >150</text>
<text x="105.50" y="441.00" font-size="11" text-anchor="middle" font-weight="normal" fill="#222" >V (mV)</text>
<text transform="translate(12,340.5) rotate(-90)" font-size="10.5" text-anchor="middle" fill="#222">I/I<tspan font-size="7.5" dy="3">+120mV</tspan></text>
<line x1="263.50" y1="276.20" x2="263.50" y2="409.00" stroke="#333" stroke-width="1" />
<line x1="263.00" y1="408.50" x2="396.70" y2="408.50" stroke="#333" stroke-width="1" />
<line x1="260.00" y1="275.95" x2="263.50" y2="275.95" stroke="#333" stroke-width="1" />
<text x="258.70" y="279.35" font-size="9.5" text-anchor="end" font-weight="normal" fill="#222" >20</text>
<line x1="260.00" y1="302.40" x2="263.50" y2="302.40" stroke="#333" stroke-width="1" />
<text x="258.70" y="305.80" font-size="9.5" text-anchor="end" font-weight="normal" fill="#222" >0</text>
<line x1="260.00" y1="328.85" x2="263.50" y2="328.85" stroke="#333" stroke-width="1" />
<text x="258.70" y="332.25" font-size="9.5" text-anchor="end" font-weight="normal" fill="#222" >-20</text>
<line x1="260.00" y1="355.30" x2="263.50" y2="355.30" stroke="#333" stroke-width="1" />
<text x="258.70" y="358.70" font-size="9.5" text-anchor="end" font-weight="normal" fill="#222" >-40</text>
<line x1="260.00" y1="381.75" x2="263.50" y2="381.75" stroke="#333" stroke-width="1" />
<text x="258.70" y="385.15" font-size="9.5" text-anchor="end" font-weight="normal" fill="#222" >-60</text>
<line x1="260.00" y1="408.20" x2="263.50" y2="408.20" stroke="#333" stroke-width="1" />
<text x="258.70" y="411.60" font-size="9.5" text-anchor="end" font-weight="normal" fill="#222" >-80</text>
<line x1="261.50" y1="289.17" x2="263.50" y2="289.17" stroke="#333" stroke-width="1" />
<line x1="261.50" y1="315.62" x2="263.50" y2="315.62" stroke="#333" stroke-width="1" />
<line x1="261.50" y1="342.07" x2="263.50" y2="342.07" stroke="#333" stroke-width="1" />
<line x1="261.50" y1="368.52" x2="263.50" y2="368.52" stroke="#333" stroke-width="1" />
<line x1="261.50" y1="394.97" x2="263.50" y2="394.97" stroke="#333" stroke-width="1" />
<line x1="290.40" y1="408.50" x2="290.40" y2="412.00" stroke="#333" stroke-width="1" />
<text x="290.40" y="423.20" font-size="9.5" text-anchor="middle" font-weight="normal" fill="#222" >10</text>
<line x1="356.40" y1="408.50" x2="356.40" y2="412.00" stroke="#333" stroke-width="1" />
<text x="356.40" y="423.20" font-size="9.5" text-anchor="middle" font-weight="normal" fill="#222" >100</text>
<line x1="310.27" y1="408.50" x2="310.27" y2="410.50" stroke="#333" stroke-width="1" />
<line x1="321.89" y1="408.50" x2="321.89" y2="410.50" stroke="#333" stroke-width="1" />
<line x1="330.14" y1="408.50" x2="330.14" y2="410.50" stroke="#333" stroke-width="1" />
<line x1="336.53" y1="408.50" x2="336.53" y2="410.50" stroke="#333" stroke-width="1" />
<line x1="341.76" y1="408.50" x2="341.76" y2="410.50" stroke="#333" stroke-width="1" />
<line x1="346.18" y1="408.50" x2="346.18" y2="410.50" stroke="#333" stroke-width="1" />
<line x1="350.00" y1="408.50" x2="350.00" y2="410.50" stroke="#333" stroke-width="1" />
<line x1="353.38" y1="408.50" x2="353.38" y2="410.50" stroke="#333" stroke-width="1" />
<line x1="376.27" y1="408.50" x2="376.27" y2="410.50" stroke="#333" stroke-width="1" />
<line x1="387.89" y1="408.50" x2="387.89" y2="410.50" stroke="#333" stroke-width="1" />
<line x1="396.14" y1="408.50" x2="396.14" y2="410.50" stroke="#333" stroke-width="1" />
<line x1="264.00" y1="302.50" x2="396.00" y2="302.50" stroke="#333" stroke-width="0.9" stroke-dasharray="1 1"/>
<line x1="290.40" y1="393.40" x2="375.50" y2="293.50" stroke="#6a6a6a" stroke-width="1.15" />
<circle cx="301.40" cy="379.40" r="2.6" fill="#6a6a6a"/>
<circle cx="333.10" cy="342.80" r="2.6" fill="#6a6a6a"/>
<circle cx="367.60" cy="302.50" r="2.6" fill="#6a6a6a"/>
<text x="330.5" y="439.5" font-size="11" text-anchor="middle" fill="#222">[NaCl]<tspan font-size="7.5" dy="3">i</tspan><tspan dy="-3"> mM</tspan></text>
<text transform="translate(236.8,340) rotate(-90)" font-size="11" text-anchor="middle" fill="#222">E<tspan font-size="7.5" dy="3">rev</tspan><tspan dy="-3"> (mV)</tspan></text>
<text x="424.60" y="250.90" font-size="12.5" text-anchor="start" font-weight="bold" fill="#111" >D</text>
<text x="539.60" y="252.40" font-size="12.8" text-anchor="middle" font-weight="normal" fill="#222" >WT_WT</text>
<text x="539.2" y="267.7" font-size="12.8" text-anchor="middle" fill="#222">2 µM Ca<tspan font-size="7.5" dy="-5">2+</tspan></text>
<line x1="473.50" y1="276.30" x2="473.50" y2="409.00" stroke="#333" stroke-width="1" />
<line x1="473.00" y1="408.50" x2="606.50" y2="408.50" stroke="#333" stroke-width="1" />
<line x1="470.00" y1="408.50" x2="473.50" y2="408.50" stroke="#333" stroke-width="1" />
<text x="469.20" y="411.90" font-size="9.5" text-anchor="end" font-weight="normal" fill="#222" >0.00</text>
<line x1="470.00" y1="382.15" x2="473.50" y2="382.15" stroke="#333" stroke-width="1" />
<text x="469.20" y="385.55" font-size="9.5" text-anchor="end" font-weight="normal" fill="#222" >0.02</text>
<line x1="470.00" y1="355.80" x2="473.50" y2="355.80" stroke="#333" stroke-width="1" />
<text x="469.20" y="359.20" font-size="9.5" text-anchor="end" font-weight="normal" fill="#222" >0.04</text>
<line x1="470.00" y1="329.45" x2="473.50" y2="329.45" stroke="#333" stroke-width="1" />
<text x="469.20" y="332.85" font-size="9.5" text-anchor="end" font-weight="normal" fill="#222" >0.06</text>
<line x1="470.00" y1="303.10" x2="473.50" y2="303.10" stroke="#333" stroke-width="1" />
<text x="469.20" y="306.50" font-size="9.5" text-anchor="end" font-weight="normal" fill="#222" >0.08</text>
<line x1="470.00" y1="276.75" x2="473.50" y2="276.75" stroke="#333" stroke-width="1" />
<text x="469.20" y="280.15" font-size="9.5" text-anchor="end" font-weight="normal" fill="#222" >0.10</text>
<line x1="471.50" y1="395.32" x2="473.50" y2="395.32" stroke="#333" stroke-width="1" />
<line x1="471.50" y1="368.98" x2="473.50" y2="368.98" stroke="#333" stroke-width="1" />
<line x1="471.50" y1="342.62" x2="473.50" y2="342.62" stroke="#333" stroke-width="1" />
<line x1="471.50" y1="316.27" x2="473.50" y2="316.27" stroke="#333" stroke-width="1" />
<line x1="471.50" y1="289.93" x2="473.50" y2="289.93" stroke="#333" stroke-width="1" />
<line x1="473.50" y1="408.50" x2="473.50" y2="412.00" stroke="#333" stroke-width="1" />
<text x="473.50" y="423.00" font-size="9.5" text-anchor="middle" font-weight="normal" fill="#222" >0.0</text>
<line x1="500.04" y1="408.50" x2="500.04" y2="412.00" stroke="#333" stroke-width="1" />
<text x="500.04" y="423.00" font-size="9.5" text-anchor="middle" font-weight="normal" fill="#222" >0.2</text>
<line x1="526.58" y1="408.50" x2="526.58" y2="412.00" stroke="#333" stroke-width="1" />
<text x="526.58" y="423.00" font-size="9.5" text-anchor="middle" font-weight="normal" fill="#222" >0.4</text>
<line x1="553.12" y1="408.50" x2="553.12" y2="412.00" stroke="#333" stroke-width="1" />
<text x="553.12" y="423.00" font-size="9.5" text-anchor="middle" font-weight="normal" fill="#222" >0.6</text>
<line x1="579.66" y1="408.50" x2="579.66" y2="412.00" stroke="#333" stroke-width="1" />
<text x="579.66" y="423.00" font-size="9.5" text-anchor="middle" font-weight="normal" fill="#222" >0.8</text>
<line x1="606.20" y1="408.50" x2="606.20" y2="412.00" stroke="#333" stroke-width="1" />
<text x="606.20" y="423.00" font-size="9.5" text-anchor="middle" font-weight="normal" fill="#222" >1.0</text>
<line x1="486.77" y1="408.50" x2="486.77" y2="410.50" stroke="#333" stroke-width="1" />
<line x1="513.31" y1="408.50" x2="513.31" y2="410.50" stroke="#333" stroke-width="1" />
<line x1="539.85" y1="408.50" x2="539.85" y2="410.50" stroke="#333" stroke-width="1" />
<line x1="566.39" y1="408.50" x2="566.39" y2="410.50" stroke="#333" stroke-width="1" />
<line x1="592.93" y1="408.50" x2="592.93" y2="410.50" stroke="#333" stroke-width="1" />
<line x1="555.50" y1="276.00" x2="555.50" y2="408.00" stroke="#444" stroke-width="0.9" stroke-dasharray="1 1"/>
<g fill="#808080"><rect x="493.08" y="383.19" width="1" height="1"/><rect x="522.95" y="360.60" width="1" height="1"/><rect x="524.73" y="359.37" width="1" height="1"/><rect x="542.01" y="357.10" width="1" height="1"/><rect x="494.83" y="379.55" width="1" height="1"/><rect x="512.04" y="358.60" width="1" height="1"/><rect x="541.93" y="359.23" width="1" height="1"/><rect x="485.96" y="389.76" width="1" height="1"/><rect x="525.47" y="358.15" width="1" height="1"/><rect x="534.16" y="357.41" width="1" height="1"/><rect x="528.46" y="354.92" width="1" height="1"/><rect x="521.90" y="359.67" width="1" height="1"/><rect x="498.25" y="373.79" width="1" height="1"/><rect x="512.24" y="362.67" width="1" height="1"/><rect x="532.33" y="354.70" width="1" height="1"/><rect x="548.83" y="359.73" width="1" height="1"/><rect x="505.90" y="369.55" width="1" height="1"/><rect x="550.02" y="359.92" width="1" height="1"/><rect x="545.39" y="356.89" width="1" height="1"/><rect x="491.37" y="383.27" width="1" height="1"/><rect x="552.46" y="360.97" width="1" height="1"/><rect x="498.23" y="375.86" width="1" height="1"/><rect x="515.06" y="362.58" width="1" height="1"/><rect x="521.41" y="359.95" width="1" height="1"/><rect x="521.34" y="359.05" width="1" height="1"/><rect x="549.48" y="359.54" width="1" height="1"/><rect x="543.55" y="355.16" width="1" height="1"/><rect x="486.97" y="388.94" width="1" height="1"/><rect x="543.90" y="354.29" width="1" height="1"/><rect x="520.11" y="362.08" width="1" height="1"/><rect x="531.92" y="355.77" width="1" height="1"/><rect x="520.47" y="358.58" width="1" height="1"/><rect x="496.92" y="375.30" width="1" height="1"/><rect x="554.44" y="358.64" width="1" height="1"/><rect x="480.89" y="396.15" width="1" height="1"/><rect x="485.97" y="391.47" width="1" height="1"/><rect x="497.65" y="376.87" width="1" height="1"/><rect x="477.27" y="404.58" width="1" height="1"/><rect x="523.82" y="357.68" width="1" height="1"/><rect x="500.67" y="373.76" width="1" height="1"/><rect x="545.55" y="355.85" width="1" height="1"/><rect x="555.15" y="360.21" width="1" height="1"/><rect x="498.94" y="374.26" width="1" height="1"/><rect x="476.22" y="402.26" width="1" height="1"/><rect x="489.77" y="387.19" width="1" height="1"/><rect x="486.41" y="388.42" width="1" height="1"/><rect x="477.13" y="401.02" width="1" height="1"/><rect x="551.90" y="359.86" width="1" height="1"/><rect x="546.84" y="358.92" width="1" height="1"/><rect x="516.11" y="359.87" width="1" height="1"/><rect x="526.21" y="359.32" width="1" height="1"/><rect x="524.27" y="360.79" width="1" height="1"/><rect x="550.43" y="360.07" width="1" height="1"/><rect x="532.45" y="356.41" width="1" height="1"/><rect x="493.06" y="383.15" width="1" height="1"/><rect x="516.19" y="357.14" width="1" height="1"/><rect x="518.42" y="360.68" width="1" height="1"/><rect x="520.99" y="360.90" width="1" height="1"/><rect x="475.30" y="406.06" width="1" height="1"/><rect x="478.57" y="401.18" width="1" height="1"/><rect x="524.86" y="361.67" width="1" height="1"/><rect x="502.44" y="372.40" width="1" height="1"/><rect x="531.36" y="356.56" width="1" height="1"/><rect x="478.61" y="400.07" width="1" height="1"/><rect x="528.83" y="356.00" width="1" height="1"/><rect x="510.90" y="364.35" width="1" height="1"/><rect x="522.03" y="361.17" width="1" height="1"/><rect x="499.18" y="374.52" width="1" height="1"/><rect x="503.79" y="372.74" width="1" height="1"/><rect x="504.44" y="371.89" width="1" height="1"/><rect x="536.69" y="355.34" width="1" height="1"/><rect x="533.66" y="355.85" width="1" height="1"/><rect x="498.96" y="375.52" width="1" height="1"/><rect x="493.14" y="379.21" width="1" height="1"/><rect x="488.96" y="388.53" width="1" height="1"/><rect x="481.97" y="394.28" width="1" height="1"/><rect x="499.94" y="376.44" width="1" height="1"/><rect x="509.44" y="362.71" width="1" height="1"/><rect x="543.48" y="356.67" width="1" height="1"/><rect x="526.73" y="356.49" width="1" height="1"/><rect x="545.88" y="358.59" width="1" height="1"/><rect x="483.53" y="392.81" width="1" height="1"/><rect x="516.89" y="361.99" width="1" height="1"/><rect x="542.09" y="354.75" width="1" height="1"/><rect x="488.65" y="387.30" width="1" height="1"/><rect x="526.05" y="356.57" width="1" height="1"/><rect x="539.46" y="357.54" width="1" height="1"/><rect x="497.49" y="376.74" width="1" height="1"/><rect x="538.45" y="357.30" width="1" height="1"/><rect x="507.69" y="365.00" width="1" height="1"/><rect x="507.92" y="368.91" width="1" height="1"/><rect x="486.39" y="387.77" width="1" height="1"/><rect x="474.04" y="403.61" width="1" height="1"/><rect x="554.21" y="360.70" width="1" height="1"/><rect x="509.11" y="362.15" width="1" height="1"/><rect x="491.79" y="384.28" width="1" height="1"/><rect x="534.51" y="354.96" width="1" height="1"/><rect x="516.02" y="362.86" width="1" height="1"/><rect x="497.25" y="378.16" width="1" height="1"/><rect x="479.22" y="398.03" width="1" height="1"/><rect x="521.71" y="361.32" width="1" height="1"/><rect x="477.34" y="398.99" width="1" height="1"/><rect x="547.41" y="359.00" width="1" height="1"/><rect x="546.83" y="360.84" width="1" height="1"/><rect x="547.09" y="358.01" width="1" height="1"/><rect x="534.49" y="356.18" width="1" height="1"/><rect x="487.69" y="388.62" width="1" height="1"/><rect x="516.51" y="358.74" width="1" height="1"/><rect x="507.43" y="364.67" width="1" height="1"/><rect x="501.52" y="374.40" width="1" height="1"/><rect x="494.27" y="379.54" width="1" height="1"/><rect x="537.51" y="358.41" width="1" height="1"/><rect x="502.38" y="372.33" width="1" height="1"/><rect x="540.32" y="355.43" width="1" height="1"/><rect x="487.64" y="387.17" width="1" height="1"/><rect x="539.45" y="360.27" width="1" height="1"/><rect x="540.87" y="355.10" width="1" height="1"/><rect x="544.06" y="357.27" width="1" height="1"/><rect x="477.74" y="401.14" width="1" height="1"/><rect x="516.69" y="359.54" width="1" height="1"/><rect x="508.18" y="368.44" width="1" height="1"/><rect x="473.81" y="406.34" width="1" height="1"/><rect x="478.14" y="399.90" width="1" height="1"/><rect x="479.25" y="398.33" width="1" height="1"/><rect x="553.21" y="358.96" width="1" height="1"/><rect x="514.64" y="362.28" width="1" height="1"/><rect x="499.44" y="376.05" width="1" height="1"/><rect x="526.46" y="356.48" width="1" height="1"/><rect x="521.54" y="361.38" width="1" height="1"/><rect x="500.50" y="373.84" width="1" height="1"/><rect x="483.76" y="394.99" width="1" height="1"/><rect x="504.69" y="371.78" width="1" height="1"/><rect x="480.18" y="396.97" width="1" height="1"/><rect x="522.99" y="358.94" width="1" height="1"/><rect x="537.53" y="359.05" width="1" height="1"/><rect x="524.50" y="357.88" width="1" height="1"/><rect x="508.89" y="366.65" width="1" height="1"/><rect x="531.03" y="355.38" width="1" height="1"/><rect x="507.98" y="366.67" width="1" height="1"/><rect x="493.66" y="382.75" width="1" height="1"/><rect x="517.39" y="362.87" width="1" height="1"/><rect x="508.34" y="366.38" width="1" height="1"/><rect x="508.42" y="363.32" width="1" height="1"/><rect x="504.21" y="373.72" width="1" height="1"/><rect x="546.94" y="357.49" width="1" height="1"/><rect x="511.54" y="364.77" width="1" height="1"/><rect x="483.71" y="392.07" width="1" height="1"/><rect x="546.08" y="359.60" width="1" height="1"/><rect x="538.34" y="358.29" width="1" height="1"/><rect x="519.68" y="363.63" width="1" height="1"/><rect x="482.08" y="395.15" width="1" height="1"/><rect x="485.38" y="390.86" width="1" height="1"/><rect x="536.85" y="356.57" width="1" height="1"/><rect x="481.77" y="395.27" width="1" height="1"/><rect x="545.52" y="357.42" width="1" height="1"/><rect x="542.34" y="356.93" width="1" height="1"/><rect x="483.56" y="391.88" width="1" height="1"/><rect x="541.90" y="358.99" width="1" height="1"/><rect x="551.39" y="361.07" width="1" height="1"/><rect x="476.62" y="403.83" width="1" height="1"/><rect x="536.29" y="359.51" width="1" height="1"/><rect x="482.37" y="394.80" width="1" height="1"/><rect x="534.79" y="355.56" width="1" height="1"/><rect x="500.13" y="375.10" width="1" height="1"/><rect x="519.69" y="361.07" width="1" height="1"/><rect x="488.33" y="388.15" width="1" height="1"/><rect x="494.06" y="382.63" width="1" height="1"/><rect x="505.80" y="371.74" width="1" height="1"/><rect x="503.65" y="372.91" width="1" height="1"/><rect x="507.79" y="365.44" width="1" height="1"/><rect x="480.46" y="401.10" width="1" height="1"/><rect x="507.35" y="366.58" width="1" height="1"/><rect x="534.66" y="354.87" width="1" height="1"/><rect x="535.37" y="355.42" width="1" height="1"/><rect x="528.66" y="358.77" width="1" height="1"/><rect x="526.14" y="357.99" width="1" height="1"/><rect x="546.90" y="357.39" width="1" height="1"/><rect x="534.72" y="355.52" width="1" height="1"/><rect x="548.47" y="359.63" width="1" height="1"/><rect x="532.33" y="356.53" width="1" height="1"/><rect x="488.85" y="386.69" width="1" height="1"/><rect x="521.46" y="359.85" width="1" height="1"/><rect x="499.36" y="375.35" width="1" height="1"/><rect x="551.47" y="356.60" width="1" height="1"/><rect x="497.81" y="377.47" width="1" height="1"/><rect x="543.33" y="358.73" width="1" height="1"/><rect x="521.38" y="360.95" width="1" height="1"/><rect x="475.55" y="403.15" width="1" height="1"/><rect x="512.79" y="363.55" width="1" height="1"/><rect x="503.08" y="371.72" width="1" height="1"/><rect x="499.95" y="374.94" width="1" height="1"/><rect x="554.56" y="360.58" width="1" height="1"/><rect x="512.80" y="364.21" width="1" height="1"/><rect x="541.78" y="358.13" width="1" height="1"/><rect x="540.72" y="358.69" width="1" height="1"/><rect x="532.48" y="356.92" width="1" height="1"/><rect x="543.58" y="359.23" width="1" height="1"/><rect x="552.03" y="357.59" width="1" height="1"/><rect x="511.81" y="363.37" width="1" height="1"/><rect x="532.23" y="355.33" width="1" height="1"/><rect x="528.78" y="354.34" width="1" height="1"/><rect x="493.42" y="382.23" width="1" height="1"/><rect x="489.14" y="386.31" width="1" height="1"/><rect x="531.18" y="355.63" width="1" height="1"/><rect x="543.73" y="356.44" width="1" height="1"/><rect x="544.26" y="358.05" width="1" height="1"/><rect x="499.24" y="377.78" width="1" height="1"/><rect x="480.68" y="395.82" width="1" height="1"/><rect x="481.22" y="395.56" width="1" height="1"/><rect x="502.77" y="373.62" width="1" height="1"/><rect x="521.02" y="361.07" width="1" height="1"/><rect x="500.99" y="374.28" width="1" height="1"/><rect x="509.26" y="366.19" width="1" height="1"/><rect x="521.41" y="360.74" width="1" height="1"/><rect x="551.63" y="360.26" width="1" height="1"/><rect x="483.39" y="392.16" width="1" height="1"/><rect x="496.09" y="379.11" width="1" height="1"/><rect x="546.07" y="358.24" width="1" height="1"/><rect x="547.83" y="355.11" width="1" height="1"/><rect x="504.20" y="369.42" width="1" height="1"/><rect x="536.70" y="357.14" width="1" height="1"/><rect x="528.82" y="358.29" width="1" height="1"/><rect x="527.04" y="357.15" width="1" height="1"/><rect x="535.21" y="357.06" width="1" height="1"/><rect x="552.12" y="359.83" width="1" height="1"/><rect x="482.91" y="395.52" width="1" height="1"/><rect x="513.97" y="363.57" width="1" height="1"/><rect x="529.04" y="355.18" width="1" height="1"/><rect x="519.89" y="360.63" width="1" height="1"/><rect x="525.15" y="357.54" width="1" height="1"/><rect x="488.28" y="385.63" width="1" height="1"/><rect x="483.71" y="394.24" width="1" height="1"/><rect x="549.71" y="357.53" width="1" height="1"/><rect x="532.46" y="355.33" width="1" height="1"/><rect x="522.42" y="362.39" width="1" height="1"/><rect x="511.02" y="364.73" width="1" height="1"/><rect x="499.16" y="375.54" width="1" height="1"/><rect x="532.08" y="355.92" width="1" height="1"/><rect x="535.24" y="358.28" width="1" height="1"/><rect x="502.98" y="373.04" width="1" height="1"/><rect x="495.36" y="381.67" width="1" height="1"/><rect x="477.10" y="399.94" width="1" height="1"/><rect x="514.85" y="361.63" width="1" height="1"/><rect x="502.56" y="370.27" width="1" height="1"/><rect x="500.83" y="375.75" width="1" height="1"/><rect x="536.64" y="356.16" width="1" height="1"/><rect x="502.46" y="372.44" width="1" height="1"/><rect x="495.74" y="379.68" width="1" height="1"/><rect x="481.80" y="393.49" width="1" height="1"/><rect x="533.02" y="354.62" width="1" height="1"/><rect x="488.75" y="386.15" width="1" height="1"/><rect x="534.33" y="354.69" width="1" height="1"/><rect x="540.24" y="357.14" width="1" height="1"/><rect x="485.62" y="392.43" width="1" height="1"/><rect x="506.18" y="366.84" width="1" height="1"/><rect x="520.05" y="359.75" width="1" height="1"/><rect x="490.16" y="385.09" width="1" height="1"/><rect x="476.12" y="400.80" width="1" height="1"/><rect x="539.21" y="354.37" width="1" height="1"/><rect x="504.93" y="373.04" width="1" height="1"/><rect x="539.26" y="359.80" width="1" height="1"/><rect x="539.64" y="361.62" width="1" height="1"/><rect x="539.89" y="358.50" width="1" height="1"/><rect x="540.69" y="359.36" width="1" height="1"/><rect x="539.49" y="360.46" width="1" height="1"/><rect x="536.71" y="360.75" width="1" height="1"/><rect x="539.77" y="359.38" width="1" height="1"/><rect x="539.13" y="359.24" width="1" height="1"/><rect x="537.59" y="359.59" width="1" height="1"/><rect x="536.87" y="359.49" width="1" height="1"/><rect x="539.70" y="359.16" width="1" height="1"/><rect x="539.32" y="361.53" width="1" height="1"/><rect x="540.84" y="357.76" width="1" height="1"/><rect x="540.38" y="360.00" width="1" height="1"/><rect x="536.93" y="358.84" width="1" height="1"/><rect x="537.78" y="357.50" width="1" height="1"/><rect x="539.20" y="361.40" width="1" height="1"/><rect x="538.20" y="361.14" width="1" height="1"/><rect x="539.92" y="357.73" width="1" height="1"/><rect x="540.68" y="359.90" width="1" height="1"/><rect x="541.00" y="360.44" width="1" height="1"/><rect x="540.13" y="358.70" width="1" height="1"/><rect x="540.44" y="361.42" width="1" height="1"/><rect x="540.70" y="359.15" width="1" height="1"/><rect x="540.21" y="359.36" width="1" height="1"/></g>
<path d="M473.50,408.50 L474.83,406.48 L476.15,404.51 L477.48,402.58 L478.81,400.68 L480.13,398.83 L481.46,397.02 L482.79,395.25 L484.12,393.52 L485.44,391.83 L486.77,390.18 L488.10,388.57 L489.42,387.00 L490.75,385.48 L492.08,383.99 L493.40,382.55 L494.73,381.14 L496.06,379.78 L497.39,378.46 L498.71,377.17 L500.04,375.93 L501.37,374.73 L502.69,373.57 L504.02,372.45 L505.35,371.37 L506.68,370.33 L508.00,369.34 L509.33,368.38 L510.66,367.46 L511.98,366.59 L513.31,365.75 L514.64,364.96 L515.96,364.21 L517.29,363.49 L518.62,362.82 L519.94,362.19 L521.27,361.60 L522.60,361.05 L523.93,360.54 L525.25,360.07 L526.58,359.65 L527.91,359.26 L529.23,358.91 L530.56,358.61 L531.89,358.34 L533.22,358.12 L534.54,357.94 L535.87,357.79 L537.20,357.69 L538.52,357.63 L539.85,357.61 L541.18,357.63 L542.50,357.69 L543.83,357.79 L545.16,357.94 L546.49,358.12 L547.81,358.34 L549.14,358.61 L550.47,358.91 L551.79,359.26 L553.12,359.65 L554.45,360.07 L555.77,360.54" stroke="#222" stroke-width="1.15" fill="none" />
<text x="540" y="440" font-size="11.5" text-anchor="middle" fill="#222">P<tspan font-size="8" dy="3.3">O</tspan></text>
<text transform="translate(436,342.3) rotate(-90)" font-size="11" text-anchor="middle" fill="#222">Variance / &lt;I&gt;<tspan font-size="8" dy="3">max</tspan><tspan dy="-3"> (pA)</tspan></text>
<line x1="661.30" y1="276.50" x2="661.30" y2="409.30" stroke="#333" stroke-width="1" />
<line x1="660.80" y1="408.80" x2="687.50" y2="408.80" stroke="#333" stroke-width="1" />
<line x1="657.80" y1="408.80" x2="661.30" y2="408.80" stroke="#333" stroke-width="1" />
<text x="657.00" y="412.20" font-size="9.5" text-anchor="end" font-weight="normal" fill="#222" >0.00</text>
<line x1="657.80" y1="382.40" x2="661.30" y2="382.40" stroke="#333" stroke-width="1" />
<text x="657.00" y="385.80" font-size="9.5" text-anchor="end" font-weight="normal" fill="#222" >0.05</text>
<line x1="657.80" y1="356.00" x2="661.30" y2="356.00" stroke="#333" stroke-width="1" />
<text x="657.00" y="359.40" font-size="9.5" text-anchor="end" font-weight="normal" fill="#222" >0.10</text>
<line x1="657.80" y1="329.60" x2="661.30" y2="329.60" stroke="#333" stroke-width="1" />
<text x="657.00" y="333.00" font-size="9.5" text-anchor="end" font-weight="normal" fill="#222" >0.15</text>
<line x1="657.80" y1="303.20" x2="661.30" y2="303.20" stroke="#333" stroke-width="1" />
<text x="657.00" y="306.60" font-size="9.5" text-anchor="end" font-weight="normal" fill="#222" >0.20</text>
<line x1="657.80" y1="276.80" x2="661.30" y2="276.80" stroke="#333" stroke-width="1" />
<text x="657.00" y="280.20" font-size="9.5" text-anchor="end" font-weight="normal" fill="#222" >0.25</text>
<line x1="659.30" y1="395.60" x2="661.30" y2="395.60" stroke="#333" stroke-width="1" />
<line x1="659.30" y1="369.20" x2="661.30" y2="369.20" stroke="#333" stroke-width="1" />
<line x1="659.30" y1="342.80" x2="661.30" y2="342.80" stroke="#333" stroke-width="1" />
<line x1="659.30" y1="316.40" x2="661.30" y2="316.40" stroke="#333" stroke-width="1" />
<line x1="659.30" y1="290.00" x2="661.30" y2="290.00" stroke="#333" stroke-width="1" />
<line x1="662.00" y1="297.50" x2="688.00" y2="297.50" stroke="#222" stroke-width="0.9" stroke-dasharray="1 1"/>
<line x1="674.60" y1="325.40" x2="674.60" y2="328.50" stroke="#555" stroke-width="1" />
<line x1="672.60" y1="325.40" x2="676.60" y2="325.40" stroke="#555" stroke-width="1" />
<rect x="666" y="328.1" width="17" height="80.70" fill="#7a7a7a"/>
<text transform="translate(678,415.3) rotate(-45)" font-size="10" text-anchor="end" fill="#222">WT_WT</text>
<text transform="translate(628,342.2) rotate(-90)" font-size="11.3" text-anchor="middle" fill="#222">i<tspan font-size="8" dy="3"> +80mV</tspan><tspan dy="-3"> (pA)</tspan></text>
<line x1="739.80" y1="276.50" x2="739.80" y2="409.70" stroke="#333" stroke-width="1" />
<line x1="739.30" y1="409.20" x2="765.50" y2="409.20" stroke="#333" stroke-width="1" />
<line x1="736.30" y1="409.20" x2="739.80" y2="409.20" stroke="#333" stroke-width="1" />
<text x="735.50" y="412.60" font-size="9.5" text-anchor="end" font-weight="normal" fill="#222" >0.0</text>
<line x1="736.30" y1="382.70" x2="739.80" y2="382.70" stroke="#333" stroke-width="1" />
<text x="735.50" y="386.10" font-size="9.5" text-anchor="end" font-weight="normal" fill="#222" >0.2</text>
<line x1="736.30" y1="356.20" x2="739.80" y2="356.20" stroke="#333" stroke-width="1" />
<text x="735.50" y="359.60" font-size="9.5" text-anchor="end" font-weight="normal" fill="#222" >0.4</text>
<line x1="736.30" y1="329.70" x2="739.80" y2="329.70" stroke="#333" stroke-width="1" />
<text x="735.50" y="333.10" font-size="9.5" text-anchor="end" font-weight="normal" fill="#222" >0.6</text>
<line x1="736.30" y1="303.20" x2="739.80" y2="303.20" stroke="#333" stroke-width="1" />
<text x="735.50" y="306.60" font-size="9.5" text-anchor="end" font-weight="normal" fill="#222" >0.8</text>
<line x1="736.30" y1="276.70" x2="739.80" y2="276.70" stroke="#333" stroke-width="1" />
<text x="735.50" y="280.10" font-size="9.5" text-anchor="end" font-weight="normal" fill="#222" >1.0</text>
<line x1="737.80" y1="395.95" x2="739.80" y2="395.95" stroke="#333" stroke-width="1" />
<line x1="737.80" y1="369.45" x2="739.80" y2="369.45" stroke="#333" stroke-width="1" />
<line x1="737.80" y1="342.95" x2="739.80" y2="342.95" stroke="#333" stroke-width="1" />
<line x1="737.80" y1="316.45" x2="739.80" y2="316.45" stroke="#333" stroke-width="1" />
<line x1="737.80" y1="289.95" x2="739.80" y2="289.95" stroke="#333" stroke-width="1" />
<line x1="740.00" y1="315.50" x2="767.00" y2="315.50" stroke="#222" stroke-width="0.9" stroke-dasharray="1 1"/>
<line x1="753.20" y1="321.40" x2="753.20" y2="327.50" stroke="#555" stroke-width="1" />
<line x1="750.70" y1="321.40" x2="755.80" y2="321.40" stroke="#555" stroke-width="1" />
<rect x="744.5" y="327" width="17.2" height="82.20" fill="#7a7a7a"/>
<text transform="translate(756.8,415.3) rotate(-45)" font-size="10" text-anchor="end" fill="#222">WT_WT</text>
<text transform="translate(711.5,341) rotate(-90)" font-size="11" text-anchor="middle" fill="#222">P<tspan font-size="7.5" dy="3">O</tspan><tspan dy="-3"> max</tspan><tspan font-size="7.5" dy="3"> +80mV</tspan></text>
</svg>
</body></html>
